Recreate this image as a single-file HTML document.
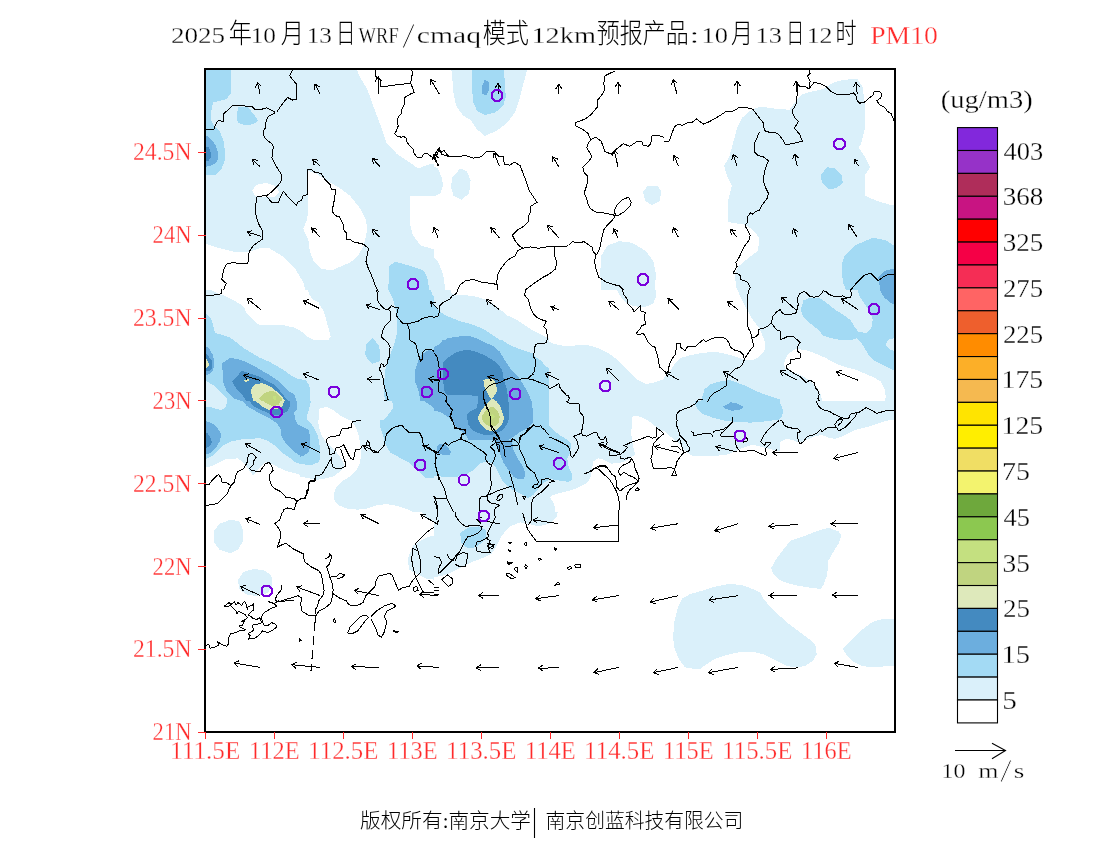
<!DOCTYPE html><html><head><meta charset="utf-8"><title>PM10</title><style>html,body{margin:0;padding:0;background:#fff;width:1100px;height:850px;overflow:hidden}svg{display:block}</style></head><body>
<svg width="1100" height="850" viewBox="0 0 1100 850">
<rect width="1100" height="850" fill="#fff"/>
<text x="170.92" y="43.02" font-family="'Liberation Serif', serif" font-weight="400" font-size="23.88" textLength="54.17" lengthAdjust="spacingAndGlyphs" fill="#000" stroke="#fff" stroke-width="0.3">2025</text>
<text x="228.77" y="42.95" font-family="'Liberation Serif', 'Noto Sans CJK SC', sans-serif" font-weight="300" font-size="27.07" textLength="23.16" lengthAdjust="spacingAndGlyphs" fill="#000" stroke="#fff" stroke-width="0">年</text>
<text x="250.72" y="43.02" font-family="'Liberation Serif', serif" font-weight="400" font-size="23.88" textLength="25.29" lengthAdjust="spacingAndGlyphs" fill="#000" stroke="#fff" stroke-width="0.3">10</text>
<text x="280.84" y="42.95" font-family="'Liberation Serif', 'Noto Sans CJK SC', sans-serif" font-weight="300" font-size="27.07" textLength="23.29" lengthAdjust="spacingAndGlyphs" fill="#000" stroke="#fff" stroke-width="0">月</text>
<text x="306.72" y="43.02" font-family="'Liberation Serif', serif" font-weight="400" font-size="23.88" textLength="25.29" lengthAdjust="spacingAndGlyphs" fill="#000" stroke="#fff" stroke-width="0.3">13</text>
<text x="336.09" y="42.95" font-family="'Liberation Serif', 'Noto Sans CJK SC', sans-serif" font-weight="300" font-size="27.07" textLength="19.40" lengthAdjust="spacingAndGlyphs" fill="#000" stroke="#fff" stroke-width="0">日</text>
<text x="358.60" y="43.02" font-family="'Liberation Serif', serif" font-weight="400" font-size="23.88" textLength="40.08" lengthAdjust="spacingAndGlyphs" fill="#000" stroke="#fff" stroke-width="0.3">WRF</text>
<text x="416.81" y="43.02" font-family="'Liberation Serif', serif" font-weight="400" font-size="23.88" textLength="64.35" lengthAdjust="spacingAndGlyphs" fill="#000" stroke="#fff" stroke-width="0.3">cmaq</text>
<text x="482.77" y="42.95" font-family="'Liberation Serif', 'Noto Sans CJK SC', sans-serif" font-weight="300" font-size="27.07" textLength="46.15" lengthAdjust="spacingAndGlyphs" fill="#000" stroke="#fff" stroke-width="0">模式</text>
<text x="531.45" y="43.02" font-family="'Liberation Serif', serif" font-weight="400" font-size="23.88" textLength="64.56" lengthAdjust="spacingAndGlyphs" fill="#000" stroke="#fff" stroke-width="0.3">12km</text>
<text x="596.77" y="42.95" font-family="'Liberation Serif', 'Noto Sans CJK SC', sans-serif" font-weight="300" font-size="27.07" textLength="91.84" lengthAdjust="spacingAndGlyphs" fill="#000" stroke="#fff" stroke-width="0">预报产品</text>
<text x="689.83" y="43.02" font-family="'Liberation Serif', serif" font-weight="400" font-size="23.88" textLength="9.27" lengthAdjust="spacingAndGlyphs" fill="#000" stroke="#fff" stroke-width="0.3">:</text>
<text x="701.62" y="43.02" font-family="'Liberation Serif', serif" font-weight="400" font-size="23.88" textLength="26.44" lengthAdjust="spacingAndGlyphs" fill="#000" stroke="#fff" stroke-width="0.3">10</text>
<text x="730.90" y="42.95" font-family="'Liberation Serif', 'Noto Sans CJK SC', sans-serif" font-weight="300" font-size="27.07" textLength="21.92" lengthAdjust="spacingAndGlyphs" fill="#000" stroke="#fff" stroke-width="0">月</text>
<text x="755.62" y="43.02" font-family="'Liberation Serif', serif" font-weight="400" font-size="23.88" textLength="26.44" lengthAdjust="spacingAndGlyphs" fill="#000" stroke="#fff" stroke-width="0.3">13</text>
<text x="786.31" y="42.95" font-family="'Liberation Serif', 'Noto Sans CJK SC', sans-serif" font-weight="300" font-size="27.07" textLength="17.91" lengthAdjust="spacingAndGlyphs" fill="#000" stroke="#fff" stroke-width="0">日</text>
<text x="806.67" y="43.02" font-family="'Liberation Serif', serif" font-weight="400" font-size="23.88" textLength="25.88" lengthAdjust="spacingAndGlyphs" fill="#000" stroke="#fff" stroke-width="0.3">12</text>
<text x="835.52" y="42.95" font-family="'Liberation Serif', 'Noto Sans CJK SC', sans-serif" font-weight="300" font-size="27.07" textLength="21.11" lengthAdjust="spacingAndGlyphs" fill="#000" stroke="#fff" stroke-width="0">时</text>
<text x="401.90" y="47.84" font-family="'Liberation Serif', serif" font-weight="400" font-size="36.21" textLength="13.00" lengthAdjust="spacingAndGlyphs" fill="#000" stroke="#fff" stroke-width="0.9">/</text>
<text x="870.17" y="43.51" font-family="'Liberation Serif', serif" font-weight="400" font-size="24.56" textLength="67.81" lengthAdjust="spacingAndGlyphs" fill="#ff2a2a" stroke="#fff" stroke-width="0.3">PM10</text>
<defs><clipPath id="fc"><rect x="205" y="69" width="690" height="663"/></clipPath></defs>
<g clip-path="url(#fc)" shape-rendering="crispEdges">
<defs><clipPath id="t0"><rect x="204" y="68" width="230" height="222"/></clipPath><clipPath id="t1"><rect x="434" y="68" width="230" height="222"/></clipPath><clipPath id="t2"><rect x="664" y="68" width="232" height="222"/></clipPath><clipPath id="t3"><rect x="204" y="290" width="115" height="111"/></clipPath><clipPath id="t4"><rect x="204" y="401" width="115" height="111"/></clipPath><clipPath id="t5"><rect x="319" y="290" width="115" height="111"/></clipPath><clipPath id="t6"><rect x="319" y="401" width="115" height="20"/></clipPath><clipPath id="t7"><rect x="300" y="420" width="140" height="100"/></clipPath><clipPath id="t8"><rect x="434" y="290" width="115" height="111"/></clipPath><clipPath id="t9"><rect x="549" y="290" width="115" height="111"/></clipPath><clipPath id="t10"><rect x="434" y="401" width="115" height="111"/></clipPath><clipPath id="t11"><rect x="549" y="401" width="115" height="111"/></clipPath><clipPath id="t12"><rect x="434" y="340" width="100" height="100"/></clipPath><clipPath id="t13"><rect x="664" y="290" width="116" height="111"/></clipPath><clipPath id="t14"><rect x="780" y="290" width="116" height="111"/></clipPath><clipPath id="t15"><rect x="664" y="401" width="116" height="111"/></clipPath><clipPath id="t16"><rect x="780" y="401" width="116" height="111"/></clipPath><clipPath id="t17"><rect x="204" y="512" width="230" height="222"/></clipPath><clipPath id="t18"><rect x="434" y="512" width="230" height="222"/></clipPath><clipPath id="t19"><rect x="664" y="512" width="232" height="222"/></clipPath><clipPath id="t20"><rect x="204" y="580" width="1" height="1"/></clipPath></defs>
<g clip-path="url(#t0)"><rect x="204" y="68" width="230" height="222" fill="#daf0fa"/><polygon points="355.4,66.7 360.7,78.4 367.2,88.9 373.7,107.2 381.5,128.1 386.8,143.7 397.2,154.2 412.9,164.6 418.1,168.5 428.5,164.6 439.0,163.3 439.0,66.7" fill="#ffffff"/><polygon points="308.4,171.1 316.3,173.7 326.7,180.3 339.8,188.1 350.2,195.9 360.7,209.0 365.9,219.4 367.2,229.9 363.8,245.5 358.0,256.0 350.2,262.5 331.9,270.3 321.5,269.0 313.7,261.2 309.7,250.8 308.4,240.3 303.2,228.6 307.1,219.4 308.4,209.0" fill="#ffffff"/><polygon points="410.3,195.9 439.0,195.9 439.0,250.8 420.7,245.5 412.9,235.1 410.3,224.7" fill="#ffffff"/><polygon points="202.7,242.9 219.7,248.2 235.3,252.1 248.4,252.1 260.1,248.2 269.3,248.2 282.3,256.0 295.4,269.0 303.2,282.1 306.3,292.5 202.7,292.5" fill="#ffffff"/><polygon points="252.3,190.7 256.2,185.0 265.4,182.9 274.5,185.5 279.7,192.0 274.5,197.2 264.1,197.2 254.9,195.9" fill="#ffffff"/><polygon points="202.7,66.7 230.6,66.7 231.4,92.8 226.2,99.3 213.1,102.5 211.3,111.1 211.3,120.2 213.9,125.4 219.7,130.7 223.6,141.1 224.9,151.6 225.4,159.4 221.0,169.8 215.7,174.5 202.7,175.0" fill="#a3daf4"/><polygon points="237.9,107.2 247.1,106.6 252.3,112.4 258.3,120.7 253.6,124.1 245.8,125.4 239.2,123.4 236.6,120.2 237.4,112.4" fill="#a3daf4"/><polygon points="388.1,292.5 389.4,266.4 394.6,261.7 407.7,265.1 423.3,270.3 427.2,276.9 429.8,292.5" fill="#a3daf4"/><polygon points="202.7,133.3 209.2,137.2 215.7,145.0 217.6,151.6 218.4,158.1 215.7,163.3 210.5,165.9 202.7,167.2" fill="#6caede"/><polygon points="202.7,146.3 209.2,147.6 210.5,151.6 211.3,156.8 208.7,160.7 202.7,161.5" fill="#448ac0"/></g>
<g clip-path="url(#t1)"><rect x="434" y="68" width="230" height="222" fill="#ffffff"/><polygon points="451.0,66.7 528.0,66.7 524.1,81.1 520.2,96.7 514.9,112.4 507.1,122.8 496.7,130.7 484.9,135.9 477.1,129.4 470.6,120.2 462.7,115.0 456.2,105.9 453.6,94.1 452.3,78.4" fill="#daf0fa"/><polygon points="432.7,165.9 437.9,168.5 441.8,177.7 443.1,185.5 440.5,193.3 432.7,197.2" fill="#daf0fa"/><polygon points="452.3,177.7 460.1,168.5 466.6,171.1 470.6,180.3 469.2,193.3 461.4,199.9 453.6,195.9 451.0,186.8" fill="#daf0fa"/><polygon points="432.7,256.0 437.9,261.2 443.1,274.3 445.7,292.5 432.7,292.5" fill="#daf0fa"/><polygon points="642.9,192.0 648.1,185.5 657.2,185.5 661.2,190.7 659.8,201.2 652.0,205.1 645.5,201.2" fill="#daf0fa"/><polygon points="601.1,256.0 607.6,245.5 619.4,241.1 632.4,242.9 645.5,250.8 653.3,261.2 655.9,274.3 654.6,292.5 601.1,292.5 600.3,271.7" fill="#daf0fa"/><polygon points="471.9,66.7 503.2,66.7 504.5,78.4 505.8,96.7 503.2,105.9 495.4,112.4 484.9,115.0 477.1,111.1 473.2,101.9 471.9,86.3" fill="#a3daf4"/><polygon points="482.3,85.0 484.9,79.7 488.8,82.4 489.4,88.9 486.2,95.4 482.3,94.1" fill="#6caede"/></g>
<g clip-path="url(#t2)"><rect x="664" y="68" width="232" height="222" fill="#ffffff"/><polygon points="724.1,165.9 729.3,156.8 737.1,128.1 742.3,117.6 751.5,109.8 760.6,106.6 773.7,108.5 789.3,109.8 797.2,99.3 802.4,94.1 810.2,92.0 823.3,88.9 833.7,82.4 844.2,79.7 857.2,79.0 862.4,86.3 865.0,104.6 865.0,128.1 861.1,143.7 858.5,147.6 865.0,156.8 870.3,167.2 865.0,175.0 865.0,195.9 878.1,201.2 891.2,205.1 899.0,206.4 899.0,292.5 737.1,292.5 734.5,274.3 738.4,266.4 747.6,258.6 758.0,250.8 759.3,237.7 752.8,229.9 744.9,224.7 728.0,222.0 728.0,201.2 731.9,185.5 726.7,175.0" fill="#daf0fa"/><polygon points="820.7,175.0 827.2,167.2 835.0,168.5 841.5,175.0 842.9,182.9 836.3,188.1 828.5,189.4 822.0,182.9" fill="#a3daf4"/><polygon points="841.5,266.4 844.2,256.0 854.6,245.5 872.9,237.7 885.9,240.3 893.8,245.5 899.0,248.2 899.0,292.5 846.8,292.5 842.9,282.1" fill="#a3daf4"/><polygon points="878.1,276.9 885.9,270.3 899.0,267.7 899.0,292.5 880.7,292.5" fill="#6caede"/></g>
<g clip-path="url(#t3)"><rect x="204" y="290" width="115" height="111" fill="#daf0fa"/><polygon points="209.9,289.3 217.1,293.3 224.9,295.9 234.0,300.4 240.6,304.4 244.5,308.3 245.8,312.2 249.7,316.1 254.9,321.3 258.8,324.6 271.9,324.6 282.3,325.0 295.4,327.9 301.9,331.8 305.8,335.7 313.7,339.6 320.2,340.4 329.3,339.6 330.6,335.7 329.3,326.6 326.7,318.7 324.1,310.9 320.2,303.1 312.4,299.1 309.7,295.2 307.1,289.3" fill="#ffffff"/><polygon points="203.3,313.5 207.9,314.8 211.2,318.7 213.1,325.2 215.1,333.1 221.0,334.4 230.1,337.7 237.9,343.5 244.5,348.7 253.6,354.0 260.1,357.9 269.3,361.8 278.4,367.0 284.9,370.9 290.2,374.9 298.0,378.8 305.8,380.1 308.4,384.0 310.4,389.2 310.4,401.0 311.0,407.5 295.4,407.5 203.3,407.5" fill="#a3daf4"/><polygon points="205.0,380.4 213.4,385.2 220.9,392.7 226.6,398.3 226.6,407.7 223.8,411.5 218.1,410.6 209.6,407.7 203.3,406.8" fill="#daf0fa"/><polygon points="203.3,344.2 209.2,348.7 213.1,355.3 214.4,363.1 213.1,370.9 207.9,374.9 203.3,376.4" fill="#6caede"/><polygon points="203.3,351.9 207.9,355.3 212.5,361.8 212.1,368.3 209.2,370.9 203.3,372.0" fill="#448ac0"/><polygon points="203.3,355.9 206.6,359.2 209.2,364.4 207.9,367.0 203.3,369.9" fill="#dee9bb"/><polygon points="222.3,363.1 230.1,357.9 237.9,359.2 245.8,361.8 253.6,365.7 260.1,369.6 269.3,374.9 277.1,380.1 282.3,385.3 287.6,390.5 294.1,394.4 296.7,401.0 297.3,408.8 282.3,408.8 241.9,401.0 234.0,398.4 226.8,391.8 222.9,381.4" fill="#6caede"/><polygon points="232.1,381.4 241.9,370.9 249.7,373.6 258.8,376.2 265.4,380.1 273.2,384.0 279.7,390.5 284.9,397.0 288.9,401.0 290.2,404.9 249.0,404.9 241.9,394.4 236.6,389.2" fill="#448ac0"/><polygon points="251.0,389.2 254.9,384.0 262.7,383.3 270.6,386.6 277.1,391.8 282.3,397.0 284.9,401.0 284.9,404.9 254.9,404.9 251.7,395.7" fill="#dee9bb"/><polygon points="258.8,398.4 264.1,393.1 271.9,390.5 277.1,393.1 282.3,398.4 281.0,402.3 262.7,402.3" fill="#c0d480"/><polygon points="272.5,396.4 275.1,395.5 276.6,399.0 273.8,400.3" fill="#c4e080"/><polygon points="243.8,380.1 249.0,378.5 249.7,380.1 245.8,382.0" fill="#dee9bb"/></g>
<g clip-path="url(#t4)"><rect x="204" y="401" width="115" height="111" fill="#daf0fa"/><polygon points="203.3,400.3 311.0,400.3 310.4,403.6 309.1,408.8 307.1,415.4 307.1,420.6 309.7,427.1 313.7,433.6 316.3,438.9 320.2,441.5 320.2,463.7 311.0,465.0 303.2,465.0 295.4,462.4 288.9,457.1 281.0,451.9 274.5,445.4 266.7,440.2 260.1,438.2 248.4,438.9 240.6,439.5 231.4,441.5 223.6,445.4 217.1,451.9 210.5,457.1 203.3,459.7" fill="#a3daf4"/><polygon points="203.3,400.3 226.8,400.3 226.2,406.9 221.0,410.1 211.8,407.5 203.3,406.9" fill="#daf0fa"/><polygon points="203.3,467.6 211.8,466.3 219.7,462.4 226.2,459.1 237.9,458.4 243.2,462.4 247.1,467.6 253.0,475.4 258.8,468.9 265.4,462.4 271.9,463.7 278.4,467.6 287.6,471.5 298.0,474.1 307.1,476.7 315.0,479.3 320.2,480.0 320.2,513.3 203.3,513.3" fill="#ffffff"/><polygon points="241.9,400.3 296.7,400.3 297.3,408.8 294.1,412.7 295.4,419.3 298.0,424.5 303.2,427.1 308.4,432.3 311.0,440.2 312.4,450.6 307.1,454.5 298.0,454.5 292.8,450.6 287.6,445.4 283.6,440.2 281.0,434.9 281.0,429.7 277.1,423.2 266.7,416.7 256.2,411.4 247.1,406.2" fill="#6caede"/><polygon points="249.0,400.3 290.2,400.3 290.2,404.9 287.6,411.4 282.3,414.1 277.1,415.4 270.6,414.1 261.4,410.1 253.6,406.2" fill="#448ac0"/><polygon points="254.9,400.3 284.9,400.3 282.3,406.2 277.1,408.8 269.3,410.1 262.7,406.9 258.8,403.6" fill="#dee9bb"/><polygon points="262.7,400.3 281.0,400.3 278.4,404.9 273.2,406.2 266.7,403.6" fill="#c0d480"/><polygon points="203.3,420.6 209.2,421.9 215.7,425.8 221.0,433.6 220.3,440.2 215.7,448.0 210.5,453.2 203.3,454.5" fill="#6caede"/><polygon points="203.3,432.3 207.9,433.6 211.2,438.9 211.8,442.8 209.2,446.7 203.3,449.3" fill="#448ac0"/></g>
<g clip-path="url(#t5)"><rect x="319" y="290" width="115" height="111" fill="#daf0fa"/><polygon points="318.3,303.1 322.9,309.6 325.5,317.4 328.1,326.6 330.7,337.0 328.1,340.3 318.3,340.3" fill="#ffffff"/><polygon points="388.2,289.3 393.4,300.4 396.0,310.9 397.3,321.3 397.3,331.8 394.7,342.2 392.1,350.1 388.2,359.2 385.6,368.3 384.3,381.4 383.6,391.8 385.6,402.3 435.2,402.3 435.2,289.3" fill="#a3daf4"/><polygon points="430.6,289.3 435.2,289.3 435.2,296.5 432.6,295.2" fill="#daf0fa"/><polygon points="365.3,354.0 366.0,344.8 372.5,337.7 378.4,344.8 380.4,352.7 379.7,361.1 372.5,363.8 367.3,359.2" fill="#a3daf4"/><polygon points="435.2,351.4 428.7,350.1 422.1,354.0 418.2,360.5 415.0,370.9 415.0,381.4 418.2,389.2 420.8,402.3 435.2,402.3" fill="#6caede"/></g>
<g clip-path="url(#t6)"><rect x="319" y="401" width="115" height="20" fill="#daf0fa"/><polygon points="320.3,408.2 326.8,406.9 333.4,410.1 339.9,415.4 347.7,419.3 350.3,421.9 318.3,421.9 318.3,410.1" fill="#ffffff"/><polygon points="392.1,400.3 435.2,400.3 435.2,421.9 380.4,421.9 379.1,424.5 386.9,416.7 393.4,407.5" fill="#a3daf4"/><polygon points="423.4,400.3 435.2,400.3 435.2,408.8" fill="#6caede"/></g>
<g clip-path="url(#t7)"><rect x="300" y="420" width="140" height="100" fill="#daf0fa"/><polygon points="317.8,419.4 350.9,419.4 356.0,427.6 358.5,435.3 360.5,445.5 361.1,455.6 359.8,463.3 356.0,470.9 350.9,476.0 342.0,481.1 336.9,486.2 333.7,493.8 334.4,500.2 338.2,505.3 347.1,508.5 357.3,509.7 367.5,508.5 376.4,505.3 386.5,504.0 396.7,505.9 406.9,509.1 417.1,513.5 424.7,518.0 427.3,521.8 299.4,521.8 299.4,476.6 307.6,477.9 316.5,479.8 325.5,478.5 334.4,476.0 340.7,470.9 344.5,467.1 343.3,462.0 338.2,454.4 333.1,448.0 326.7,442.9 321.6,435.3 319.1,427.6" fill="#ffffff"/><polygon points="379.5,419.4 441.3,419.4 441.3,477.3 428.5,478.5 424.7,477.3 417.1,469.6 408.2,462.0 399.3,457.5 390.4,452.5 385.9,445.5 383.4,436.5 380.2,427.6" fill="#a3daf4"/><polygon points="438.7,444.2 441.3,443.5 441.3,451.8 439.0,450.5" fill="#6caede"/><polygon points="299.4,419.4 307.6,419.4 314.0,427.6 317.8,435.3 319.7,445.5 320.4,455.6 319.1,462.0 312.7,464.5 305.1,464.5 299.4,463.3" fill="#a3daf4"/><polygon points="299.4,425.1 303.8,427.6 308.9,430.2 310.2,437.8 310.2,445.5 308.9,451.8 303.8,455.6 299.4,456.9" fill="#6caede"/></g>
<g clip-path="url(#t8)"><rect x="434" y="290" width="115" height="111" fill="#daf0fa"/><polygon points="451.0,289.3 451.6,293.9 456.2,295.2 464.0,295.0 471.9,295.9 478.4,297.2 486.2,299.8 494.1,304.4 501.9,310.9 507.1,315.5 514.9,318.7 522.8,323.9 530.6,329.2 538.4,333.1 546.3,337.0 550.2,338.6 550.2,289.3" fill="#ffffff"/><polygon points="433.3,303.1 440.5,312.2 447.1,316.1 460.1,321.3 467.9,323.3 475.8,325.9 483.6,329.2 491.4,334.4 499.3,339.6 507.1,342.2 514.9,346.1 525.4,351.4 533.2,355.3 541.0,360.5 546.3,367.0 550.2,368.3 550.2,402.3 433.3,402.3" fill="#a3daf4"/><polygon points="433.3,351.4 441.8,344.8 447.1,338.3 460.1,336.3 470.6,336.3 479.7,339.6 488.8,343.5 495.4,347.4 501.9,355.3 507.1,363.1 512.3,368.3 517.6,374.9 522.8,384.0 528.0,391.8 530.6,402.3 433.3,402.3" fill="#6caede"/><polygon points="443.1,363.1 451.0,354.0 460.1,350.1 469.2,349.4 477.1,352.7 486.2,356.6 494.1,361.8 500.6,368.3 504.5,374.9 507.1,381.4 511.0,389.2 514.9,394.4 517.6,402.3 447.1,402.3 444.4,394.4 441.8,386.6 441.8,374.9" fill="#448ac0"/></g>
<g clip-path="url(#t9)"><rect x="549" y="290" width="115" height="111" fill="#ffffff"/><polygon points="616.9,289.3 619.5,295.2 624.7,301.7 632.6,305.7 640.4,307.0 648.2,306.3 653.4,303.1 656.0,296.5 656.0,289.3" fill="#daf0fa"/><polygon points="548.3,340.9 552.9,343.5 562.1,345.5 575.1,345.5 585.6,344.8 594.7,346.8 603.8,350.7 611.7,355.3 618.2,360.5 624.7,367.0 631.2,373.6 637.8,380.1 645.6,384.0 653.4,382.7 661.3,380.1 665.2,378.8 665.2,402.3 548.3,402.3" fill="#daf0fa"/></g>
<g clip-path="url(#t10)"><rect x="434" y="401" width="115" height="111" fill="#daf0fa"/><polygon points="433.3,400.3 550.2,400.3 550.2,479.3 545.0,481.9 538.4,488.5 533.2,495.0 528.0,498.3 522.8,495.0 514.9,491.1 508.4,487.2 503.2,481.9 499.3,474.1 495.4,466.3 490.1,462.4 484.9,461.7 479.7,463.7 473.2,470.2 466.6,474.1 454.9,477.4 441.8,476.7 433.3,475.4" fill="#a3daf4"/><polygon points="433.3,400.3 531.3,400.3 531.9,406.2 532.6,414.1 531.3,424.5 524.1,431.7 514.9,436.2 512.3,442.8 513.6,450.6 517.6,458.4 522.8,466.3 525.4,474.1 524.1,478.7 518.9,479.3 513.6,476.7 508.4,470.2 503.2,462.4 499.9,453.2 497.3,445.4 494.1,440.8 488.8,439.1 482.3,437.8 473.2,435.9 466.6,433.9 461.4,431.3 456.2,425.8 451.0,419.3 447.1,415.4 441.8,413.4 433.3,411.4" fill="#6caede"/><polygon points="436.6,446.7 439.2,444.1 444.4,444.1 448.4,448.0 451.0,451.9 449.7,454.5 441.8,454.5 436.6,453.2" fill="#6caede"/><polygon points="478.4,400.3 507.1,400.3 509.1,408.8 509.7,418.0 507.1,425.8 504.5,431.0 499.3,433.6 492.7,433.6 486.2,432.3 479.7,430.4 473.2,427.1 469.2,421.9 466.6,415.4 470.6,411.4 475.8,407.5" fill="#448ac0"/><polygon points="478.4,418.0 479.7,412.7 483.6,407.5 488.8,403.6 491.4,400.3 498.0,400.3 500.6,407.5 503.2,415.4 503.2,421.9 500.6,427.1 495.4,430.4 488.8,431.0 483.6,428.4 480.3,424.5" fill="#dee9bb"/><polygon points="482.3,418.0 483.6,414.1 487.5,410.1 491.4,408.2 495.4,411.4 499.3,416.7 500.6,420.6 496.7,425.2 491.4,427.1 486.2,425.2 483.6,421.9" fill="#c0d480"/><polygon points="490.8,416.0 493.4,415.4 494.1,418.0 491.4,418.6" fill="#c4e080"/></g>
<g clip-path="url(#t11)"><rect x="549" y="401" width="115" height="111" fill="#daf0fa"/><polygon points="632.6,415.4 640.4,416.7 648.2,420.6 654.7,425.8 660.0,429.7 665.2,432.3 665.2,513.3 555.5,513.3 554.2,504.1 550.3,497.6 552.9,495.0 562.1,492.4 572.5,489.8 581.6,485.9 588.2,481.9 590.8,476.7 592.1,468.9 593.4,461.1 598.6,458.4 603.8,459.7 611.7,463.7 622.1,462.4 629.9,458.4 635.2,454.5 633.2,446.7 631.2,433.6" fill="#ffffff"/><polygon points="548.3,424.5 552.9,429.7 559.4,434.9 566.0,438.9 571.2,444.1 569.9,453.2 567.3,458.4 568.6,466.3 571.8,474.1 572.5,479.3 568.6,481.9 559.4,480.6 551.6,479.3 548.3,478.0" fill="#a3daf4"/></g>
<g clip-path="url(#t12)"><rect x="434" y="340" width="100" height="100" fill="#a3daf4"/><polygon points="501.1,339.4 535.2,339.4 535.2,354.1 528.1,351.8 518.7,348.8 509.3,344.7" fill="#daf0fa"/><polygon points="433.4,347.1 438.7,344.7 443.4,339.4 478.7,339.4 484.6,342.4 492.8,345.9 499.9,351.8 506.9,363.5 511.6,370.6 518.7,377.6 523.4,384.7 528.1,392.9 531.6,401.2 532.8,410.6 532.8,422.4 528.1,428.2 518.7,432.9 514.0,436.5 506.9,441.2 469.3,441.2 466.9,436.5 463.4,432.9 458.7,429.4 454.0,424.7 451.6,420.0 445.8,415.3 439.9,411.8 433.4,410.6" fill="#6caede"/><polygon points="443.4,362.4 448.1,357.6 455.2,352.9 462.2,350.6 469.3,350.0 476.4,351.8 484.6,355.3 492.8,360.0 498.7,364.7 502.2,370.6 503.4,377.6 504.6,382.4 506.9,389.4 508.1,398.8 509.3,408.2 509.3,417.6 506.9,424.7 502.2,430.6 495.2,434.1 488.1,435.3 481.1,434.1 472.8,430.6 468.1,424.7 466.9,415.3 469.3,411.8 476.4,408.2 478.1,402.4 477.5,395.9 469.3,395.3 463.4,394.7 455.2,395.3 448.1,395.3 444.6,391.8 443.4,383.5 443.4,372.9" fill="#448ac0"/><polygon points="483.4,380.0 486.9,378.8 492.8,378.8 495.2,382.4 496.4,387.1 497.5,390.6 495.2,394.1 492.8,397.6 491.6,398.8 489.3,396.5 486.9,391.8 484.6,387.1" fill="#dee9bb"/><polygon points="478.1,416.5 481.1,410.6 485.8,404.7 490.5,400.0 492.8,398.8 496.4,401.2 499.9,405.9 502.2,411.8 504.0,417.6 502.2,424.7 497.5,429.4 491.6,431.2 485.8,429.4 481.1,424.7 478.7,421.2" fill="#dee9bb"/><polygon points="482.2,415.3 485.8,410.6 490.5,407.1 494.0,407.1 497.5,410.6 499.9,416.5 498.7,422.4 495.2,425.9 489.3,426.5 484.6,423.5 482.2,420.0" fill="#c0d480"/><polygon points="489.3,415.3 492.8,414.1 494.6,416.5 492.8,418.8 490.5,418.2" fill="#c4e080"/></g>
<g clip-path="url(#t13)"><rect x="664" y="290" width="116" height="111" fill="#ffffff"/><polygon points="737.2,289.3 739.8,295.2 743.7,303.1 747.6,310.9 752.8,320.0 758.1,326.6 762.0,334.4 765.2,342.3 764.6,350.1 760.7,355.3 755.4,359.2 748.9,360.5 742.4,359.2 735.8,356.6 726.7,354.0 716.3,352.1 703.2,352.7 690.1,355.3 681.0,357.9 674.5,364.5 669.2,372.3 663.3,378.8 663.3,402.3 780.3,402.3 780.3,289.3" fill="#daf0fa"/><polygon points="700.6,402.3 704.5,389.3 711.0,384.1 720.2,381.4 729.3,380.1 737.2,382.7 747.6,386.7 758.1,391.9 768.5,395.8 776.3,398.4 780.3,399.7 780.3,402.3" fill="#a3daf4"/></g>
<g clip-path="url(#t14)"><rect x="780" y="290" width="116" height="111" fill="#daf0fa"/><polygon points="800.9,309.6 803.5,300.5 810.0,297.8 820.5,298.5 827.0,303.1 834.9,309.6 845.3,316.1 850.5,320.0 854.5,326.6 858.4,331.8 866.2,333.1 871.4,327.9 872.7,320.0 870.1,312.2 864.9,304.4 859.7,296.5 857.1,289.3 896.3,289.3 896.3,371.0 889.7,368.4 881.9,364.5 874.1,360.5 868.8,355.3 864.9,348.8 861.0,342.3 857.1,338.3 850.5,340.3 841.4,340.3 832.3,338.3 823.1,335.7 819.2,330.5 812.7,325.3 806.1,320.0 802.2,314.8" fill="#a3daf4"/><polygon points="879.3,289.3 896.3,289.3 896.3,305.7 891.0,303.1 884.5,297.8" fill="#6caede"/><polygon points="885.8,344.9 888.4,339.6 893.7,338.3 896.3,338.3 896.3,351.4 891.0,350.1" fill="#daf0fa"/><polygon points="783.9,363.2 787.8,354.0 795.7,348.8 806.1,350.1 816.6,354.0 825.7,357.9 834.9,363.2 845.3,367.1 855.8,369.7 864.9,373.6 874.1,377.5 880.6,381.4 884.5,389.3 885.8,397.1 884.5,402.3 823.1,402.3 820.5,394.5 816.6,386.7 811.4,381.4 804.8,377.5 797.0,373.6 790.5,371.0 785.2,368.4" fill="#ffffff"/></g>
<g clip-path="url(#t15)"><rect x="664" y="401" width="116" height="111" fill="#ffffff"/><polygon points="663.3,400.3 780.3,400.3 780.3,451.3 771.1,449.3 763.3,447.4 755.4,445.4 750.2,445.4 742.4,448.0 735.8,451.3 726.7,454.6 716.3,455.9 703.2,456.5 692.7,455.9 686.2,451.9 679.7,444.1 671.8,437.6 663.3,430.4" fill="#daf0fa"/><polygon points="695.4,400.3 780.3,400.3 780.3,419.3 771.1,420.6 760.7,421.9 750.2,422.6 737.2,421.9 724.1,420.6 713.6,418.0 703.2,414.1 698.0,410.1 695.4,404.9" fill="#a3daf4"/><polygon points="722.8,406.9 730.6,402.3 737.2,403.6 744.3,406.9 739.8,409.5 731.9,410.8 725.4,408.8" fill="#6caede"/></g>
<g clip-path="url(#t16)"><rect x="780" y="401" width="116" height="111" fill="#ffffff"/><polygon points="779.3,400.3 896.3,400.3 896.3,419.3 887.1,420.6 879.3,423.2 871.4,425.8 863.6,427.8 855.8,429.7 847.9,433.7 841.4,436.9 834.9,438.9 828.3,437.6 821.8,435.0 814.0,436.3 806.1,440.2 799.6,442.8 793.1,440.2 786.5,438.9 779.3,442.1" fill="#daf0fa"/><polygon points="779.3,403.6 781.3,404.9 782.6,408.8 782.6,414.1 781.3,418.0 779.3,418.0" fill="#a3daf4"/></g>
<g clip-path="url(#t17)"><rect x="204" y="512" width="230" height="222" fill="#ffffff"/><polygon points="214.4,530.3 219.7,523.7 230.1,519.8 239.2,521.1 243.2,530.3 243.2,540.7 237.9,549.9 230.1,553.3 219.7,549.9 213.9,542.0" fill="#daf0fa"/><polygon points="237.9,579.9 243.2,572.1 253.6,568.9 265.4,570.7 271.4,576.0 272.4,585.1 268.0,592.9 256.2,596.1 245.8,594.2 239.2,589.0" fill="#daf0fa"/><polygon points="407.7,559.0 412.9,545.9 420.7,540.7 428.5,536.8 436.4,535.5 436.4,579.9 425.9,578.6 415.5,573.4 409.0,569.4" fill="#daf0fa"/><polygon points="420.7,510.7 436.4,510.7 436.4,522.4 425.9,518.5" fill="#daf0fa"/></g>
<g clip-path="url(#t18)"><rect x="434" y="512" width="230" height="222" fill="#ffffff"/><polygon points="432.7,510.7 558.0,510.7 556.7,517.2 548.9,523.7 538.4,526.4 528.0,523.7 520.2,522.4 509.7,526.4 501.9,535.5 496.7,545.9 491.4,553.8 483.6,557.7 473.2,561.6 462.7,566.8 452.3,572.1 441.8,576.0 432.7,577.3" fill="#daf0fa"/><polygon points="460.1,532.9 467.9,527.7 478.4,526.4 486.2,530.3 486.2,538.1 481.0,543.3 475.8,547.2 467.9,548.6 461.4,543.3" fill="#a3daf4"/></g>
<g clip-path="url(#t19)"><rect x="664" y="512" width="232" height="222" fill="#ffffff"/><polygon points="771.0,568.1 776.3,559.0 784.1,548.6 790.6,540.7 802.4,536.8 815.4,531.6 828.5,527.7 838.9,531.6 841.5,535.5 838.9,543.3 833.7,551.2 828.5,560.3 827.2,574.7 823.3,585.1 820.7,589.0 810.2,587.7 794.5,585.1 781.5,581.2 773.7,574.7" fill="#daf0fa"/><polygon points="673.1,637.3 674.4,621.7 678.4,606.0 682.3,598.2 690.1,594.2 703.2,590.3 716.2,586.4 729.3,583.8 742.3,585.1 752.8,589.0 760.6,592.9 763.2,598.2 768.4,604.7 778.9,615.1 789.3,624.3 799.8,632.1 810.2,639.9 815.4,645.2 816.7,654.3 812.8,660.8 805.0,666.0 797.2,667.4 786.7,666.0 778.9,662.1 771.0,658.2 763.2,654.3 752.8,651.7 742.3,651.7 729.3,654.3 716.2,658.2 705.8,664.7 700.6,668.7 692.7,668.7 684.9,667.4 678.4,658.2 674.4,647.8" fill="#daf0fa"/><polygon points="842.9,649.1 852.0,639.9 862.4,629.5 872.9,621.7 883.3,619.0 893.8,619.0 899.0,619.0 899.0,666.0 888.5,666.0 872.9,667.4 862.4,666.0 852.0,660.8 846.8,655.6" fill="#daf0fa"/></g>
<g clip-path="url(#t20)"></g>
<path d="M204.0,129.4 L213.9,129.4 L215.2,125.4 L217.1,121.5 L219.1,120.2 L221.8,121.5 L223.6,122.0 L223.6,113.7 L228.3,109.8 L232.2,105.9 L244.5,105.9 L245.8,106.6 L252.3,106.6 L254.9,109.3 L261.4,109.3 L266.7,107.9 L271.9,110.6 L275.3,112.4 M292.8,69.3 L289.6,75.8 L292.8,79.7 L296.7,84.4 L296.2,99.3 L292.8,100.1 L287.6,97.5 L284.9,100.6 L281.0,105.9 L276.6,112.4 M275.3,112.9 L269.3,115.8 L267.4,117.6 L265.4,124.1 L265.4,128.1 L263.5,130.7 L264.1,137.2 L266.7,139.8 L271.9,143.7 L273.2,146.3 L272.7,152.9 L271.9,158.1 L275.3,164.6 L279.2,171.1 L281.8,175.0 L281.0,181.6 L278.4,185.0 L272.4,191.2 L267.2,195.2 L258.3,196.5 L256.2,197.2 L255.7,214.2 L258.3,223.4 L262.0,229.9 L263.0,239.0 L258.8,241.6 L253.6,245.5 L249.7,250.8 L248.4,254.7 L247.9,263.8 L240.6,263.8 L232.7,262.5 L226.2,264.3 L223.6,270.3 L221.8,279.5 L226.2,283.4 L223.6,289.9 M615.5,70.6 L605.0,75.8 L603.7,83.7 L605.0,88.9 L602.4,94.1 L597.2,100.6 L597.2,107.2 L590.7,115.0 L585.4,118.9 L575.0,122.8 L575.0,125.4 L582.8,129.4 L588.0,133.3 L590.7,139.8 L595.9,137.2 L601.1,141.1 L605.0,151.6 L611.5,154.2 L616.8,148.9 L623.3,143.7 L629.8,146.3 L637.7,141.1 L641.6,141.1 L642.9,145.0 L648.1,146.3 L650.7,143.7 L652.0,135.9 L658.5,135.4 L664.0,137.2 M590.7,139.8 L588.0,143.7 L586.7,147.6 L590.7,154.2 L592.0,156.8 L588.0,162.0 L582.8,167.2 L584.1,172.4 L588.0,176.4 L587.5,182.9 L584.1,193.3 L586.7,198.5 L588.0,203.8 L590.7,209.0 L597.2,212.9 L603.7,212.9 L610.2,214.2 L615.5,215.5 M615.5,215.5 L614.2,210.3 L616.8,205.1 L622.0,199.9 L628.5,197.2 L631.1,202.5 L629.8,206.4 L624.6,211.6 L618.1,215.5 L615.5,215.5 M615.5,215.5 L612.9,219.4 L607.6,224.7 L603.7,229.9 L602.4,235.1 L601.1,241.6 L599.8,248.2 L597.2,253.4 L595.4,256.0 M522.8,248.2 L530.6,246.9 L538.4,248.2 L546.3,246.9 L554.1,246.9 L564.5,246.9 L568.5,245.5 L572.4,241.6 L578.9,242.9 L584.1,241.6 L589.4,245.5 L592.0,246.9 L593.3,252.1 L595.9,253.9 M595.9,253.9 L594.6,261.2 L595.9,269.0 L598.5,276.9 L606.3,282.1 L614.2,284.7 L619.4,286.0 L623.3,289.9 M554.1,246.9 L554.6,256.0 L556.7,262.5 L555.4,269.0 L548.9,274.3 L543.7,276.9 L535.8,282.1 L530.6,286.0 L525.4,289.9 M522.8,248.2 L517.6,250.8 L514.9,256.0 L509.7,258.6 L504.5,263.8 L500.6,269.0 L498.0,274.3 L496.7,282.1 L498.0,289.9 M498.0,284.7 L491.4,283.4 L481.0,282.1 L473.2,279.5 L465.3,280.8 L460.1,284.7 L457.5,289.9 M434.0,154.2 L436.6,155.5 L439.2,148.9 L441.8,154.2 L449.7,156.8 L457.5,156.8 L465.3,155.5 L473.2,158.1 L481.0,156.8 L486.2,151.6 L490.1,151.0 L495.4,152.1 L499.3,156.8 L503.2,156.8 L504.5,164.6 L509.7,165.1 L514.9,162.0 L520.2,165.9 L522.8,172.4 L526.7,182.9 L529.3,190.7 L534.5,198.5 L537.1,202.5 L534.5,203.8 L530.6,206.4 L530.6,211.6 L528.0,216.8 L528.0,222.0 L524.1,226.0 L517.6,229.9 L512.3,235.1 L514.9,240.3 L518.9,245.5 L522.8,248.2 M664.0,141.1 L669.2,141.1 L674.4,126.7 L678.4,124.1 L682.3,125.4 L687.5,122.8 L691.4,122.8 L696.6,118.9 L703.2,124.1 L709.7,121.5 L718.8,116.3 L726.7,111.1 L733.2,111.1 L739.7,107.2 L744.9,107.2 L752.8,109.3 L758.0,116.3 L763.2,122.8 L764.5,130.7 L768.4,132.0 L773.7,132.0 L778.9,134.6 L782.8,139.8 L785.4,145.0 L791.9,143.7 L797.2,142.4 L802.4,141.1 L799.8,134.6 L794.5,128.1 L798.5,121.5 L794.5,117.6 L791.9,111.1 L795.9,104.6 L797.2,94.1 L797.2,83.7 L799.8,86.3 L805.0,86.3 L808.9,88.9 L810.2,81.1 L807.6,75.8 L810.2,73.2 L808.9,70.1 M808.9,88.9 L814.1,82.4 L820.7,83.7 L825.9,86.3 L831.1,91.5 L836.3,94.1 L844.2,94.1 L849.4,94.1 L853.3,92.8 L855.9,95.4 L857.2,100.6 L859.8,103.2 L865.0,101.9 L869.0,98.0 L872.9,95.4 L874.2,91.5 L879.4,91.0 L882.0,94.1 L880.7,98.0 L876.8,100.6 L879.4,104.6 L884.6,107.2 L887.2,111.1 L891.2,113.7 L893.8,120.2 L895.9,122.8 M759.3,132.0 L756.7,138.5 L754.1,143.7 L754.1,151.6 L758.0,155.5 L763.2,156.8 L768.4,160.7 L765.8,167.2 L764.5,172.4 L763.2,180.3 L765.8,188.1 L768.4,193.3 L767.1,198.5 L761.9,205.1 L759.3,210.3 L755.4,211.6 L752.8,214.2 L750.2,212.9 L747.6,216.8 L747.6,222.0 L744.9,226.0 L747.6,229.9 L750.2,235.1 L748.9,240.3 L744.9,245.5 L742.3,250.8 L738.4,258.6 L735.8,262.5 L737.1,266.4 L733.2,273.0 L739.7,274.3 L741.0,279.5 L747.6,282.1 L750.2,287.3 L748.9,289.9 M850.7,289.9 L857.2,282.1 L863.7,275.6 L870.3,273.0 L874.2,276.9 L878.1,280.8 L883.3,276.9 L888.5,274.3 L893.8,274.3 L895.9,275.6 M204.0,485.2 L209.2,484.6 L211.8,480.6 L217.1,475.4 L219.0,474.8 L221.6,479.3 L221.6,481.9 L227.5,483.2 L230.8,485.9 M230.8,485.9 L234.7,481.9 L235.3,476.7 L237.3,472.1 L243.2,468.9 L245.8,465.0 L247.1,462.4 L248.4,454.5 L252.3,453.2 L256.2,457.1 L253.6,461.1 L253.0,465.0 L250.3,467.6 L249.7,468.9 L252.3,470.8 L260.1,471.5 L262.7,467.6 L265.4,463.7 L269.3,462.4 L271.9,466.3 L273.2,470.2 L269.9,474.1 L269.3,479.3 L271.9,485.9 L274.5,488.5 L279.7,491.1 L282.3,493.0 L286.2,497.6 L294.1,498.3 L296.7,501.5 M230.8,485.9 L228.8,489.8 L227.5,493.7 L223.6,497.6 L218.4,502.8 L214.4,504.1 L209.2,504.8 L204.0,506.7 M296.7,501.5 L300.6,498.9 L304.5,498.3 L307.1,493.7 L308.4,489.8 L308.4,483.2 L311.0,481.3 L315.0,481.3 L315.0,475.4 L319.0,475.4 M296.7,501.5 L295.4,505.4 L294.1,509.4 L287.6,508.0 L283.6,509.4 L283.6,512.0 M376.4,290.0 L377.7,293.9 L377.1,299.1 L379.1,303.1 L381.7,306.3 L384.3,308.9 L388.2,309.6 L390.1,310.9 L390.8,316.1 L390.1,320.7 L386.9,323.9 L384.3,327.2 L382.3,331.8 L381.7,337.0 L384.3,339.6 L388.2,342.9 L390.1,347.4 L389.5,352.7 L389.5,356.6 L387.5,360.5 L386.9,364.4 L384.3,367.0 L383.0,364.4 L381.0,363.8 L380.4,367.0 L379.1,369.0 L381.0,372.2 L383.0,377.5 L383.6,384.0 L385.6,390.5 L386.9,395.7 L388.2,399.7 L384.3,401.0 M388.2,309.6 L391.5,305.7 L394.1,307.0 L398.6,307.0 L397.3,310.9 L396.7,316.1 L399.9,320.0 L402.6,323.3 L407.8,323.7 L418.2,321.3 L422.1,318.7 L426.0,317.4 L431.3,316.1 L434.0,317.4 M407.1,323.7 L409.1,329.2 L409.1,339.6 L413.0,342.2 L415.6,343.5 L416.9,348.7 L418.2,354.0 L419.5,357.9 L420.8,361.8 L422.1,359.2 L422.1,352.7 L424.7,350.1 L430.0,349.4 L432.6,350.1 L434.0,351.4 M361.1,420.0 L352.2,421.9 L351.5,427.6 L342.0,428.9 L339.5,435.3 L329.3,437.2 L326.7,439.1 L326.7,442.3 L329.3,449.3 L329.3,454.4 L334.4,453.7 L335.6,448.0 L339.5,447.4 L343.9,444.8 L345.2,448.0 L348.4,454.4 L350.9,458.8 L353.5,459.5 L354.7,453.7 L355.4,449.9 L359.2,449.9 L361.1,448.0 L362.4,445.5 L365.5,446.7 M331.8,457.5 L331.2,462.0 L333.1,467.1 L337.5,469.0 L341.4,468.4 L345.2,466.5 L345.2,462.0 L343.3,456.9 L340.7,449.3 M331.8,457.5 L325.5,468.4 L321.6,474.7 L315.3,476.0 L314.6,480.5 L309.5,481.1 L308.3,489.4 L306.4,491.3 L305.7,498.3 L300.0,498.9 M365.5,446.7 L367.5,440.4 L369.4,442.9 L370.0,447.4 L371.3,450.5 L373.8,452.5 L377.6,452.5 L381.5,448.6 L384.6,444.8 L385.3,439.1 L386.5,434.0 L391.6,428.9 L394.8,427.0 L401.8,425.1 L404.4,428.3 L409.5,432.7 L414.5,432.7 L419.6,432.7 L422.2,437.8 L423.5,445.5 L426.0,446.7 L429.8,448.0 L433.6,451.8 L437.5,454.4 L440.0,454.4 M423.5,445.5 L427.3,448.0 L432.4,450.5 L435.5,453.1 L436.2,458.2 L434.9,463.3 L436.2,468.4 L437.5,473.5 L438.7,479.8 M433.6,496.4 L436.2,501.5 L437.5,506.5 L437.5,511.6 L436.8,520.0 M433.6,496.4 L437.5,498.9 L440.0,498.9 M457.5,290.0 L456.8,293.3 L452.3,295.9 L449.7,299.1 L443.1,302.4 L439.2,306.3 L439.2,312.8 L437.9,316.1 L434.0,317.4 M525.4,290.0 L524.7,295.2 L528.0,299.1 L529.3,303.1 L530.6,308.3 L533.2,313.5 L537.1,317.4 L542.4,320.0 L546.3,321.3 L545.0,323.9 L543.7,326.6 L546.3,329.2 L546.9,333.1 L547.6,338.3 L546.3,342.2 L543.7,343.5 L538.4,343.5 L535.2,344.8 L534.5,351.4 L533.2,356.6 L535.2,359.2 L535.2,365.7 L534.5,370.9 L531.9,374.9 L528.0,378.1 L525.4,378.8 M528.0,378.8 L533.2,380.1 L538.4,382.0 L543.7,384.0 L549.0,386.6 M622.1,290.0 L624.1,295.2 L627.3,299.1 L627.3,303.1 L629.9,305.7 L633.2,309.6 L633.9,312.2 L637.8,308.3 L640.4,305.7 L641.0,310.9 L645.6,312.8 L644.3,316.1 L645.0,321.3 L645.6,323.9 L641.7,325.9 L639.7,329.2 L636.5,333.1 L637.8,335.0 L640.4,334.4 L643.0,333.1 L645.6,337.0 L648.2,342.2 L652.1,346.1 L655.4,347.4 L656.0,351.4 L657.4,355.3 L658.7,360.5 L659.3,367.0 L661.3,368.3 L664.0,370.9 M548.0,387.4 L549.9,388.4 L554.9,386.0 L558.9,383.6 L559.7,387.0 M559.7,387.0 L562.1,390.5 L566.4,395.2 L568.6,395.7 L569.2,398.4 L567.9,401.0 M445.1,401.0 L448.4,404.9 L452.3,410.1 L449.7,416.7 L453.6,423.2 L454.9,428.4 L460.1,429.1 L465.3,429.1 L465.3,433.6 L461.4,434.9 L460.8,438.9 L456.2,440.8 L451.0,442.8 L448.4,445.4 L445.1,442.8 L443.1,445.4 L440.5,449.3 L437.9,451.9 L435.3,453.2 L434.0,450.6 M460.8,438.9 L466.6,441.5 L471.9,444.1 L477.1,448.0 L483.6,451.9 L486.2,454.5 L485.6,459.7 L488.8,463.7 L491.4,465.0 M435.3,453.2 L435.3,463.7 L437.9,474.1 L439.2,478.0 L441.8,483.2 L444.4,488.5 L445.7,493.7 L447.1,498.9 L449.7,504.1 L452.3,509.4 L453.6,512.0 M434.0,498.9 L447.1,498.9 M434.0,501.5 L436.6,505.4 L437.3,512.0 M484.3,401.0 L486.2,404.9 L488.8,411.4 L490.1,416.7 L490.8,424.5 L494.1,429.7 L496.7,433.6 L499.3,437.6 L500.6,441.5 L503.2,445.4 L504.5,450.6 L505.1,457.1 M491.4,465.0 L490.1,471.5 L490.8,479.3 L491.4,484.6 L490.1,489.8 L487.5,495.0 L486.2,496.3 L481.0,497.0 L479.0,500.2 L479.0,512.0 M491.4,465.0 L494.1,459.7 L495.4,455.8 L494.1,450.6 L491.4,448.0 L490.1,446.7 L495.4,442.8 L499.3,445.4 L499.9,451.9 M495.4,442.8 L503.2,441.5 L511.0,441.5 L512.3,438.9 L514.9,440.2 L518.9,444.1 L517.6,445.4 L511.0,446.0 L505.1,446.0 M518.9,444.1 L519.5,440.2 L520.2,436.2 L525.4,433.6 L528.0,428.4 L533.2,425.8 L538.4,426.5 L541.0,425.8 L542.4,428.4 L545.0,429.7 L546.3,432.3 L549.0,434.9 M518.9,444.1 L520.2,450.6 L524.1,458.4 L526.7,466.3 L530.6,470.2 L534.5,472.8 L535.8,476.7 L538.4,481.9 L537.1,484.6 L534.5,484.6 L532.6,487.2 L534.5,488.5 L538.4,487.2 L541.0,484.6 L541.0,479.3 L549.0,478.7 M509.1,471.5 L511.0,476.7 L512.3,481.9 L513.6,485.9 L514.9,491.1 L516.2,497.6 L517.6,505.4 M512.3,485.9 L504.5,488.5 L496.7,491.1 L491.4,493.7 L487.5,495.0 M487.5,496.3 L487.5,500.2 L490.1,502.8 L496.7,504.1 L499.3,505.4 L495.4,508.0 L494.1,512.0 M496.7,500.2 L498.0,496.3 L500.6,494.3 L502.5,495.0 L501.9,498.3 L499.3,500.2 L496.7,500.2 M549.0,484.6 L545.0,488.5 L541.0,492.4 L537.1,495.0 L533.2,498.3 L531.9,502.8 L531.3,512.0 M566.6,401.0 L568.6,403.0 L572.5,403.6 L577.7,403.0 L579.7,404.9 L579.0,410.1 L580.3,412.7 L582.9,415.4 L583.6,420.6 L582.3,427.1 L581.6,433.0 L577.7,434.9 L573.8,436.2 L575.8,438.9 L577.7,442.8 L578.4,448.0 L576.4,451.9 L573.8,455.8 L571.8,458.4 M581.6,433.0 L582.9,435.6 L586.9,436.2 L590.8,434.3 L594.7,432.3 L597.3,433.0 L598.0,436.2 L599.9,438.9 L602.5,439.5 L604.5,438.9 L605.1,436.2 L606.4,438.9 L607.1,442.8 L605.8,445.4 L601.2,444.1 L598.6,443.4 M549.0,436.9 L555.5,439.5 L562.1,442.8 L568.6,446.7 L569.9,450.6 L571.2,457.1 M598.6,443.4 L603.8,446.7 L607.7,448.7 L610.4,450.0 L614.3,451.3 L618.2,452.6 L620.1,453.2 M609.1,450.6 L609.1,455.2 L615.6,455.2 L620.1,454.5 L622.1,453.2 L624.1,451.3 L626.0,449.3 L627.3,447.3 L623.4,445.4 L627.3,444.1 L629.9,442.8 L637.8,440.2 L643.0,438.2 L648.2,436.2 L652.1,438.2 L656.0,437.6 L656.7,427.8 L660.0,430.4 L664.0,433.6 M620.1,455.8 L620.1,458.4 L624.7,459.1 L629.9,457.1 L631.2,458.4 L630.6,461.1 L627.3,463.7 L623.4,465.0 L620.1,467.6 L618.2,472.1 L620.8,475.4 L624.1,472.1 L626.0,473.5 L628.6,475.4 L632.6,476.7 L636.5,479.3 L637.8,481.9 L635.2,483.2 L629.9,484.6 L624.7,487.2 L620.1,491.1 L616.9,487.2 L616.2,481.9 L615.6,476.7 L611.7,474.1 L609.1,470.2 L606.4,467.6 L602.5,466.3 L599.9,466.3 L597.3,468.9 L593.4,468.9 L588.2,472.8 L584.9,473.5 L590.8,471.5 L596.0,467.6 L599.9,465.6 L605.1,465.6 L607.7,467.6 M631.2,458.4 L633.9,462.4 L635.2,468.9 L637.8,474.1 L639.1,478.0 L638.4,481.9 L635.2,484.6 L629.9,489.8 L627.3,493.7 L626.0,500.2 M598.6,468.9 L605.1,475.4 L610.4,480.6 L614.3,487.2 L616.9,492.4 L618.8,498.9 L619.5,505.4 L618.8,512.0 M635.2,489.8 L637.1,487.8 L639.1,489.5 L637.1,491.1 L635.2,489.8 M664.0,433.6 L657.4,438.9 L653.4,444.1 L652.1,450.6 L652.8,453.2 L650.8,458.4 L652.1,463.7 L653.4,468.9 L664.0,468.9 M549.0,479.3 L554.2,481.3 L549.0,482.6 M434.0,352.9 L437.5,357.6 L438.7,365.9 L440.5,372.9 L439.9,378.8 L438.1,384.7 L438.7,391.8 L444.6,394.1 L446.9,397.6 L445.8,401.2 L449.3,405.9 L452.2,409.4 L451.6,414.1 L450.5,416.5 L452.8,421.2 L454.6,427.1 L458.7,428.8 L464.6,429.4 L465.8,432.9 L462.2,434.1 L461.1,436.5 L461.6,440.0 M434.0,380.0 L440.5,380.6 M483.4,391.8 L485.8,389.4 L489.3,385.9 L492.8,384.1 L496.4,383.5 L499.9,382.4 L504.6,380.0 L511.6,377.6 L516.4,379.4 L523.4,378.8 L528.1,378.8 L534.0,380.0 M528.1,378.8 L531.6,375.3 L534.0,374.1 M483.4,391.8 L483.4,396.5 L484.6,402.4 L486.9,408.2 L489.3,412.9 L490.5,417.6 L490.5,424.7 L491.6,429.4 L495.2,432.9 L497.5,436.5 L499.9,440.0 M519.9,440.0 L521.1,436.5 L524.6,434.1 L529.3,429.4 L532.8,425.9 L534.0,424.7 M748.9,290.0 L747.6,295.2 L747.0,303.1 L747.6,309.6 L747.6,316.1 L747.0,325.3 L748.9,329.2 L750.9,333.1 L751.5,338.3 L752.8,340.9 L753.5,346.2 L750.2,350.1 L747.6,354.0 L745.0,357.9 L743.7,361.2 L742.4,364.5 L739.8,367.1 L735.2,369.0 L733.2,371.0 L730.6,373.6 L728.0,374.9 L726.7,378.8 L726.7,385.4 L722.8,388.0 L718.9,390.6 L713.6,393.2 L711.0,395.8 L708.4,399.7 L707.8,402.3 M751.5,338.3 L755.4,337.0 L758.1,334.4 L758.7,329.2 L763.3,328.5 L767.2,326.6 L771.1,322.7 L773.1,316.1 L776.3,312.2 L780.0,309.6 M771.1,322.7 L775.0,327.9 L777.7,330.5 L780.0,331.1 L780.7,339.6 M744.3,361.2 L743.7,355.3 L739.8,351.4 L734.5,350.1 L730.6,347.5 L728.7,342.3 L725.4,338.3 L720.2,337.0 L716.3,337.7 L712.3,338.3 L708.4,340.3 L705.8,341.6 L703.2,339.6 L699.3,342.9 L695.4,346.8 L691.4,346.2 L687.5,346.8 L684.9,350.7 L681.0,347.5 L680.3,343.6 L676.4,343.6 L675.8,354.0 L671.8,359.2 L669.2,364.5 L668.6,371.0 L666.6,372.3 L664.0,371.0 M703.2,399.7 L698.6,399.7 L697.3,401.0 M780.0,309.6 L782.6,313.5 L785.2,314.8 L790.5,314.2 L795.7,313.5 L797.0,309.6 L798.3,304.4 L797.0,299.1 L799.6,293.9 L804.2,291.3 L806.1,292.6 L810.0,296.5 L814.0,297.2 L819.2,295.9 L821.8,293.3 L823.1,290.7 L825.7,291.3 L828.3,293.9 L832.3,295.9 L837.5,296.5 L842.7,295.9 L846.6,297.8 L850.5,297.2 L851.8,293.9 L850.5,291.3 L851.2,290.0 M780.0,339.6 L783.9,338.3 L787.8,336.4 L793.1,336.4 L797.0,339.6 L800.2,342.3 L798.3,344.9 L797.0,350.7 L800.9,354.0 L800.9,357.9 L794.4,359.2 L790.5,359.2 L790.5,363.2 L787.8,364.5 L786.5,365.8 L786.5,368.4 L790.5,371.0 L794.4,373.6 L799.6,376.2 L803.5,380.1 L806.1,382.7 L810.0,380.1 L814.6,382.7 L815.3,388.0 L817.9,390.6 L819.2,394.5 L817.9,398.4 L819.2,401.0 M697.3,401.0 L695.4,403.6 L690.1,406.9 L684.9,408.8 L679.7,410.8 L677.1,413.4 L676.4,416.7 L677.1,420.6 L676.4,425.2 L678.4,429.7 L679.7,435.0 L683.6,438.9 L686.2,441.5 L687.5,445.4 L690.1,448.0 L689.5,450.6 L686.2,451.9 L683.6,452.6 M683.6,452.6 L679.7,438.9 L677.1,441.5 L671.8,440.8 M670.5,446.1 L677.1,446.1 L681.0,450.0 M683.6,452.6 L681.0,455.9 L677.1,461.1 L675.8,466.3 L673.8,471.5 L671.8,475.5 L676.4,475.5 L674.5,468.9 L670.5,467.6 L664.0,468.3 M694.0,435.6 L693.4,432.4 L691.4,431.7 M694.0,435.6 L700.6,434.3 L707.1,433.0 L711.0,433.7 L713.0,436.9 M713.0,432.4 L716.3,430.4 L722.8,429.7 L726.7,427.1 L731.9,422.6 L732.6,416.7 M732.6,422.6 L728.0,427.1 L724.1,431.0 L721.5,433.0 L720.2,435.0 L721.5,436.3 L733.2,436.3 M733.2,436.3 L735.8,438.9 L735.8,444.1 L737.2,448.0 L739.8,451.3 L745.0,451.3 L752.8,450.0 L758.1,452.6 L765.9,455.9 L766.5,453.3 L765.2,449.3 L767.2,446.7 L771.1,442.8 L765.9,442.8 L764.6,445.4 L760.7,441.5 L763.3,436.3 L767.2,431.0 L772.4,425.8 L776.3,422.6 L779.1,420.6 M740.4,440.2 L743.7,442.1 L747.6,440.8 L747.6,438.9 L745.0,436.3 M816.6,401.0 L817.2,404.3 L820.5,408.2 L824.4,410.1 L829.6,411.5 L833.6,414.1 L837.5,415.4 L840.1,417.3 L845.3,418.6 L848.6,418.6 L850.5,414.1 L853.2,413.4 L855.8,412.8 L858.4,412.8 L862.3,410.1 L866.2,407.5 L871.4,410.1 L876.7,413.4 L883.2,411.5 L888.4,410.1 L893.7,410.8 M780.0,420.6 L782.6,421.2 L783.9,425.2 L787.8,427.1 L793.1,428.4 L798.3,429.1 L800.2,431.7 L797.6,433.0 L797.6,436.3 L798.3,440.2 L800.2,444.1 L803.5,441.5 L807.4,436.3 L812.7,435.0 L817.9,432.4 L820.5,429.1 L821.8,431.7 L823.1,431.0 L827.0,427.8 L832.3,427.8 L836.2,427.1 L834.9,424.5 L837.5,420.6 L841.4,419.3 M837.5,420.6 L840.1,418.0 L842.7,419.9 L841.4,422.6 L838.1,425.2 M836.2,427.1 L838.8,431.0 L845.3,427.1 L850.5,421.9 L855.1,416.7 L857.1,413.4 M282.3,512.0 L279.7,519.8 L274.5,523.7 L278.4,527.7 L281.0,532.9 L279.7,540.7 L277.1,547.2 L282.3,544.6 L286.2,543.3 L292.8,548.6 L298.0,551.2 L303.2,553.8 L304.5,561.6 L311.0,566.8 L318.9,570.7 L321.5,574.7 L322.8,582.5 L324.1,590.3 L322.8,595.6 L318.9,600.8 L317.6,606.0 L315.0,609.9 L316.3,615.1 L308.4,615.1 L301.9,611.2 L300.6,603.4 L301.9,598.2 L298.0,595.6 L290.2,598.2 L281.0,600.8 M315.0,615.1 L315.0,621.7 M325.4,559.0 L329.3,556.4 L329.3,553.8 L331.9,556.4 L329.3,564.2 L326.7,566.8 L329.3,574.7 L331.9,582.5 L333.2,590.3 L331.9,598.2 L330.6,603.4 L324.1,608.6 L318.9,611.2 L316.3,615.1 M329.3,577.3 L337.2,576.0 L339.8,573.4 L345.0,574.7 L342.4,577.3 L337.2,578.6 M331.9,592.9 L339.8,598.2 L346.3,600.8 L348.9,604.7 L352.8,606.0 L359.4,604.7 L363.3,602.1 L365.9,595.6 L371.1,590.3 L375.0,586.4 L376.3,579.9 L378.9,576.0 L384.2,574.7 L389.4,573.4 L392.0,574.7 L394.6,581.2 L398.5,590.3 L402.4,587.7 L409.0,586.4 L412.9,579.9 L416.8,576.0 L420.7,572.1 L420.7,561.6 L418.1,551.2 L415.5,543.3 L420.7,538.1 L425.9,532.9 L431.2,529.0 L434.0,527.7 M418.1,551.2 L412.9,548.6 L411.6,559.0 L412.9,566.8 L415.5,577.3 L420.7,587.7 L423.3,592.9 L434.0,592.9 M412.9,587.7 L416.8,586.4 L418.1,590.3 L414.2,591.6 L412.9,587.7 M428.5,579.9 L431.2,582.5 L434.0,585.1 M347.6,633.4 L350.2,626.9 L355.4,621.7 L360.7,616.4 L365.9,615.1 L368.5,617.7 L364.6,621.7 L360.7,626.9 L358.0,630.8 L352.8,633.4 L347.6,633.4 M371.1,616.4 L376.3,611.2 L384.2,606.0 L392.0,603.4 L395.9,606.0 L392.0,608.6 L386.8,611.2 L384.2,616.4 L386.8,621.7 L385.5,626.9 L384.2,632.1 L381.5,637.3 L377.6,634.7 L376.3,629.5 L373.7,624.3 L371.1,619.0 M334.5,617.7 L335.9,623.0 L333.2,621.7 L334.5,617.7 M299.3,638.6 L301.1,640.5 L299.3,641.2 L299.3,638.6 M393.3,630.8 L398.5,631.6 L395.9,632.6 L393.3,630.8 M434.0,522.4 L436.6,523.7 L439.2,519.8 M454.9,512.0 L456.2,517.2 L460.1,522.4 L465.3,526.4 L475.8,525.1 L482.3,526.4 L481.0,530.3 L478.4,532.9 L473.2,535.5 L467.9,536.8 L465.3,540.7 L462.7,545.9 L460.1,551.2 L456.2,555.1 L453.6,559.0 L448.4,564.2 L444.4,568.1 L440.5,572.1 L437.9,573.4 M494.1,512.0 L495.4,517.2 L492.7,522.4 L490.1,527.7 L487.5,532.9 L488.8,536.8 L486.2,538.1 L490.1,540.7 L487.5,545.9 L490.1,552.5 L483.6,552.5 L477.1,551.2 L475.8,545.9 L477.1,542.0 L482.3,540.7 L486.2,538.1 M487.5,543.3 L494.1,544.6 L492.7,548.6 L488.8,547.2 M434.0,556.4 L439.2,557.7 L441.8,562.9 L439.2,566.8 L437.9,573.4 M447.1,553.8 L449.7,559.0 L453.6,560.3 M454.9,561.6 L457.5,555.1 L462.7,552.5 L467.9,553.8 L466.6,561.6 L465.3,566.8 L460.1,566.8 L454.9,564.2 M441.8,579.9 L447.1,574.7 L452.3,578.6 L452.3,583.8 L448.4,586.4 L441.8,579.9 M434.0,587.7 L439.2,587.7 M434.0,590.3 L439.2,590.3 M434.0,594.2 L439.2,595.0 M522.8,513.3 L525.4,522.4 L527.5,529.0 L531.9,535.5 L536.3,541.2 L618.6,541.2 L618.6,512.0 M531.9,512.0 L531.9,519.8 L528.0,525.1 M265.3,195.3 L272.4,202.9 L278.8,202.9 L279.4,198.8 L283.5,191.2 L287.6,196.5 L296.5,205.3 L297.6,202.4 L301.8,200.0 L302.9,195.9 L307.6,194.7 L307.6,169.4 L311.2,169.4 L313.5,171.8 L321.2,173.5 L324.7,179.4 L330.6,185.3 L331.2,189.4 L335.3,189.4 L334.7,200.6 L333.5,202.4 L332.4,211.8 L335.9,215.9 L339.4,216.5 L342.9,223.5 L344.1,230.6 L346.5,232.9 L346.5,239.4 L350.0,239.4 M375.3,69.5 L375.3,76.6 L378.8,77.8 L380.6,80.1 L380.6,86.2 L388.2,86.0 L395.9,84.8 L404.1,84.0 L410.6,83.4 L411.8,77.8 L412.4,71.3 L410.0,69.5 M410.6,83.4 L412.4,87.2 L414.1,92.5 L410.0,94.2 L405.3,97.2 L404.1,98.9 L404.7,103.6 L402.9,107.2 L401.2,110.7 L401.8,113.1 L398.2,116.6 L397.6,120.1 L397.6,123.6 L398.2,126.0 L396.5,130.7 L394.7,133.6 L397.1,136.0 L401.2,137.2 L404.1,136.6 L406.5,138.4 L407.1,142.5 L410.0,146.0 L413.5,149.5 L414.1,153.1 L417.1,157.2 L421.8,157.2 L424.1,153.6 L427.6,153.6 L431.2,156.6 L434.1,158.9 L437.6,163.6 L438.8,166.0 M434.1,158.9 L434.1,155.4 L439.4,147.2 L440.0,151.9 L444.1,150.7 L447.6,155.4 L450.0,157.2 M350.0,239.0 L352.8,241.6 L363.3,244.2 L368.5,248.2 L365.9,261.2 L368.5,269.0 L371.1,274.3 L375.0,284.7 L377.6,289.9 L378.4,292.5 M204.0,295.9 L206.6,295.9 L213.1,295.2 L221.0,293.9 L221.0,289.3 M205.9,645.9 L208.7,644.0 L210.1,648.3 L215.3,646.9 L219.1,645.0 L217.2,641.2 L220.9,644.0 L226.6,646.4 L228.5,644.0 L228.5,638.4 L230.4,633.7 L235.1,632.7 L239.8,630.8 L245.4,629.9 L241.7,628.0 L238.8,626.1 L242.6,625.2 L243.5,622.4 L244.5,620.5 L241.7,621.4 L245.4,619.5 L247.3,617.7 L245.4,614.8 L241.7,613.0 L238.8,611.1 L237.0,613.4 L236.0,611.1 L232.2,607.3 L230.4,605.4 L227.5,606.8 L224.2,606.4 L227.5,603.5 L229.4,602.6 L230.8,604.5 L232.2,603.5 L234.1,601.7 L236.0,605.0 L237.9,602.6 L239.8,604.0 L241.7,605.4 L242.6,603.5 L244.5,601.2 L246.4,604.5 L247.3,609.2 L248.3,606.4 L252.0,605.4 L253.4,603.5 L253.4,610.1 L251.1,612.0 L248.3,614.8 L251.1,616.7 L253.0,618.6 L256.7,619.5 L259.6,617.7 L260.5,619.5 L261.4,622.4 L260.5,623.3 L256.7,624.3 L253.0,624.7 L252.0,627.1 L253.9,629.0 L253.0,630.8 L251.1,631.8 L248.3,633.7 L250.1,635.6 L249.2,637.4 L248.3,639.3 L251.1,638.4 L254.8,638.4 L257.7,636.0 L260.5,633.7 L262.4,630.8 L264.3,631.8 L268.0,632.3 L271.8,630.8 L275.6,628.0 L277.0,626.1 L275.6,624.3 L272.7,623.3 L271.8,622.4 L269.9,624.3 L268.0,625.2 L264.3,625.2 L263.3,624.3 L262.4,621.4 L261.4,617.7 L262.4,614.8 L265.2,612.0 L269.9,609.2 L273.7,607.3 L276.5,606.4 L275.6,605.0 L272.7,603.1 L268.0,601.2 L269.9,602.6 L273.7,603.5 L276.5,602.6 L277.4,601.7 L278.4,600.7 L279.3,601.7 L284.0,601.2 L288.7,600.2 L294.0,600.2 M276.5,602.6 L275.6,598.8 L276.5,596.0 L278.4,593.2 L280.3,591.3 L281.7,589.4 L281.7,585.2 M508.5,541.8 L511.5,542.5 L509.7,544.0 L508.5,541.8 M525.3,541.8 L527.2,544.0 L526.0,546.2 L524.5,544.0 L525.3,541.8 M507.8,549.5 L510.7,551.0 L509.3,551.6 L507.8,549.5 M553.6,547.6 L556.5,548.4 L555.4,551.0 L553.6,547.6 M538.4,557.8 L541.3,559.3 L539.1,560.7 L538.4,557.8 M507.1,561.7 L512.2,562.9 L508.5,564.4 L507.1,561.7 M513.6,568.7 L517.3,567.0 L517.7,572.4 L513.6,568.7 M525.3,564.4 L527.2,566.5 L526.0,568.4 L524.8,566.5 L525.3,564.4 M506.4,573.1 L510.0,573.8 L512.9,576.0 L515.1,577.7 L511.5,578.6 L508.5,576.7 L506.4,575.3 L506.4,573.1 M566.7,568.0 L570.4,566.5 L571.8,568.4 L568.9,569.5 L566.7,568.0 M574.7,564.7 L580.5,564.7 L580.5,567.3 L575.2,567.3 L574.7,564.7 M554.4,585.5 L558.0,581.8 L559.5,584.0 L554.4,585.5 M488.2,544.7 L494.0,544.7 L489.6,548.4 L488.2,544.7 M522.4,496.0 L525.3,496.7 L524.5,499.6 L522.4,496.0" fill="none" stroke="#000" stroke-width="1" stroke-linejoin="round"/>
<path d="M315.0,621.7 L311.0,671.3" fill="none" stroke="#000" stroke-width="1.2" stroke-dasharray="9,5"/>
<path d="M260.1,94.1 L257.5,82.4 M255.5,87.6 L257.5,82.4 L261.5,86.3 M320.2,94.1 L315.0,84.2 M314.5,89.8 L315.0,84.2 L319.9,86.9 M378.8,94.2 L378.2,76.6 M375.3,81.4 L378.2,76.6 L381.4,81.2 M439.4,94.2 L430.6,79.5 M430.4,85.1 L430.6,79.5 L435.6,82.0 M498.0,93.5 L498.0,83.5 M495.0,88.1 L498.0,83.5 L501.0,88.1 M558.8,94.1 L558.8,84.2 M555.8,88.8 L558.8,84.2 L561.8,88.8 M618.0,94.1 L618.0,82.4 M615.0,87.1 L618.0,82.4 L621.0,87.1 M677.0,94.1 L673.1,79.7 M671.4,85.0 L673.1,79.7 L677.3,83.4 M737.1,94.1 L737.1,81.1 M734.1,85.8 L737.1,81.1 L740.1,85.8 M797.2,94.1 L795.9,81.1 M793.3,86.1 L795.9,81.1 L799.4,85.5 M857.2,94.1 L855.9,82.4 M853.4,87.4 L855.9,82.4 L859.4,86.7 M260.1,166.7 L252.3,159.4 M253.6,164.8 L252.3,159.4 L257.8,160.4 M320.2,165.9 L312.4,159.4 M314.1,164.7 L312.4,159.4 L317.9,160.1 M380.2,166.7 L372.4,158.5 M373.4,164.0 L372.4,158.5 L377.8,159.8 M437.9,165.9 L434.0,154.2 M432.6,159.6 L434.0,154.2 L438.4,157.7 M499.3,165.9 L494.0,152.9 M492.9,158.4 L494.0,152.9 L498.6,156.1 M558.8,166.7 L552.8,156.8 M552.6,162.4 L552.8,156.8 L557.8,159.2 M618.0,166.7 L614.2,150.2 M612.3,155.5 L614.2,150.2 L618.2,154.1 M678.4,165.9 L673.9,155.5 M673.0,161.0 L673.9,155.5 L678.6,158.6 M737.1,165.9 L733.2,154.2 M731.8,159.6 L733.2,154.2 L737.6,157.7 M797.2,165.9 L794.5,154.2 M792.6,159.5 L794.5,154.2 L798.5,158.1 M858.5,165.9 L854.1,159.4 M854.2,163.7 L854.1,159.4 L858.1,161.1 M261.4,236.4 L247.1,232.0 M250.7,236.3 L247.1,232.0 L252.5,230.5 M320.2,237.2 L311.6,227.8 M312.5,233.3 L311.6,227.8 L317.0,229.2 M379.5,237.2 L372.4,229.4 M373.3,234.9 L372.4,229.4 L377.8,230.8 M437.9,237.7 L434.0,227.3 M432.8,232.8 L434.0,227.3 L438.5,230.6 M499.3,237.7 L490.9,227.8 M491.6,233.4 L490.9,227.8 L496.3,229.4 M558.8,237.7 L547.6,225.4 M548.5,230.9 L547.6,225.4 L553.0,226.8 M618.0,237.7 L613.6,228.6 M612.9,234.1 L613.6,228.6 L618.4,231.5 M678.4,237.2 L673.1,227.8 M672.7,233.4 L673.1,227.8 L678.1,230.4 M737.1,237.2 L730.6,229.4 M731.3,234.9 L730.6,229.4 L735.9,231.1 M797.2,237.2 L793.2,228.6 M792.5,233.8 L793.2,228.6 L797.6,231.4 M857.2,237.2 L848.9,224.7 M849.0,230.3 L848.9,224.7 L854.0,226.9 M260.8,309.6 L247.1,298.5 M248.8,303.8 L247.1,298.5 L252.7,299.1 M319.0,308.3 L303.2,300.4 M306.0,305.2 L303.2,300.4 L308.8,299.8 M379.7,309.6 L366.0,305.0 M369.5,309.4 L366.0,305.0 L371.4,303.6 M438.2,308.8 L430.3,301.8 M431.8,307.2 L430.3,301.8 L435.8,302.6 M499.3,309.6 L486.2,299.8 M488.1,305.1 L486.2,299.8 L491.8,300.2 M558.8,309.6 L551.0,306.7 M553.7,310.4 L551.0,306.7 L555.5,305.7 M618.8,309.6 L609.0,301.5 M610.7,306.8 L609.0,301.5 L614.6,302.1 M679.0,309.6 L667.9,298.5 M669.1,304.0 L667.9,298.5 L673.4,299.7 M737.8,309.6 L727.4,301.5 M729.2,306.8 L727.4,301.5 L733.0,302.0 M795.7,309.6 L781.3,297.2 M782.9,302.6 L781.3,297.2 L786.8,298.0 M857.7,309.6 L841.4,298.5 M843.6,303.7 L841.4,298.5 L847.0,298.6 M260.4,380.5 L243.5,375.3 M247.1,379.6 L243.5,375.3 L248.9,373.8 M319.0,380.0 L303.2,373.5 M306.4,378.1 L303.2,373.5 L308.7,372.5 M379.7,380.0 L367.3,378.8 M371.7,382.3 L367.3,378.8 L372.3,376.2 M438.5,380.0 L428.7,378.8 M432.9,382.3 L428.7,378.8 L433.6,376.4 M499.3,380.6 L488.1,376.5 M491.5,381.0 L488.1,376.5 L493.6,375.3 M559.3,380.3 L545.0,373.2 M547.9,378.0 L545.0,373.2 L550.6,372.6 M618.8,380.7 L606.4,368.3 M607.6,373.8 L606.4,368.3 L611.9,369.5 M679.0,380.1 L665.3,372.3 M667.9,377.3 L665.3,372.3 L670.9,372.0 M737.8,380.1 L723.4,371.6 M725.9,376.6 L723.4,371.6 L729.0,371.4 M797.0,380.1 L780.0,371.0 M782.7,375.9 L780.0,371.0 L785.6,370.5 M857.7,380.1 L836.2,371.6 M839.4,376.2 L836.2,371.6 L841.7,370.5 M260.8,452.6 L245.1,443.4 M247.6,448.4 L245.1,443.4 L250.7,443.1 M320.4,452.5 L301.3,443.5 M304.2,448.3 L301.3,443.5 L306.8,442.7 M379.0,453.0 L363.5,446.0 M366.5,450.7 L363.5,446.0 L369.0,445.2 M438.5,453.0 L423.0,445.6 M425.9,450.4 L423.0,445.6 L428.6,444.9 M499.3,452.5 L494.0,437.0 M492.6,442.4 L494.0,437.0 L498.4,440.5 M558.8,452.6 L539.1,446.0 M542.6,450.4 L539.1,446.0 L544.5,444.6 M620.0,453.0 L598.6,443.4 M601.6,448.1 L598.6,443.4 L604.1,442.5 M679.0,452.6 L654.6,446.5 M658.4,450.6 L654.6,446.5 L659.9,444.7 M737.2,452.0 L715.6,446.7 M719.4,450.8 L715.6,446.7 L720.9,444.9 M797.6,452.6 L772.4,452.6 M777.1,455.6 L772.4,452.6 L777.1,449.6 M857.7,452.6 L833.6,458.5 M838.9,460.3 L833.6,458.5 L837.4,454.4 M260.1,524.5 L245.8,518.5 M249.0,523.1 L245.8,518.5 L251.3,517.5 M320.2,523.7 L303.2,523.7 M307.9,526.7 L303.2,523.7 L307.9,520.7 M378.9,523.7 L360.7,514.6 M363.5,519.4 L360.7,514.6 L366.3,514.0 M438.5,524.5 L420.7,514.6 M423.3,519.5 L420.7,514.6 L426.3,514.2 M499.5,524.0 L476.8,519.4 M480.8,523.3 L476.8,519.4 L482.0,517.3 M558.0,523.7 L533.2,519.8 M537.4,523.5 L533.2,519.8 L538.3,517.5 M618.0,525.0 L593.3,527.7 M598.3,530.2 L593.3,527.7 L597.6,524.2 M678.4,523.7 L650.7,528.2 M655.8,530.5 L650.7,528.2 L654.8,524.4 M738.4,523.7 L714.9,530.8 M720.3,532.4 L714.9,530.8 L718.5,526.5 M797.7,524.5 L769.0,526.4 M773.9,529.1 L769.0,526.4 L773.5,523.0 M857.7,523.7 L831.1,523.7 M835.8,526.7 L831.1,523.7 L835.8,520.7 M260.1,595.6 L240.6,586.4 M243.5,591.2 L240.6,586.4 L246.1,585.6 M320.2,595.6 L296.7,586.9 M300.0,591.4 L296.7,586.9 L302.2,585.7 M378.9,595.6 L354.1,590.3 M358.1,594.3 L354.1,590.3 L359.3,588.3 M438.5,595.6 L419.4,594.2 M423.9,597.6 L419.4,594.2 L424.3,591.5 M499.3,595.0 L478.4,595.6 M483.2,598.5 L478.4,595.6 L483.0,592.4 M558.8,595.6 L535.8,598.7 M540.9,601.1 L535.8,598.7 L540.0,595.1 M618.9,595.6 L592.5,600.0 M597.6,602.2 L592.5,600.0 L596.6,596.2 M678.4,595.6 L650.2,602.1 M655.5,604.0 L650.2,602.1 L654.1,598.1 M738.4,595.6 L708.9,600.0 M714.0,602.3 L708.9,600.0 L713.1,596.3 M797.7,595.0 L769.2,595.6 M774.0,598.6 L769.2,595.6 L773.8,592.5 M857.7,595.0 L832.4,595.0 M837.1,598.0 L832.4,595.0 L837.1,592.0 M260.1,667.4 L234.0,663.0 M238.1,666.8 L234.0,663.0 L239.1,660.8 M320.2,667.4 L291.5,664.7 M295.9,668.2 L291.5,664.7 L296.5,662.1 M378.9,667.4 L351.5,666.6 M356.1,669.8 L351.5,666.6 L356.3,663.7 M439.2,667.4 L416.8,666.0 M421.3,669.3 L416.8,666.0 L421.7,663.2 M499.3,667.4 L476.3,667.9 M481.1,670.8 L476.3,667.9 L480.9,664.7 M558.8,667.9 L538.4,668.1 M543.1,671.1 L538.4,668.1 L543.1,665.0 M618.9,667.4 L594.0,672.6 M599.2,674.6 L594.0,672.6 L598.0,668.7 M678.4,667.4 L653.3,672.6 M658.5,674.6 L653.3,672.6 L657.3,668.7 M738.4,667.4 L708.4,672.6 M713.5,674.8 L708.4,672.6 L712.5,668.8 M797.7,667.9 L770.5,669.4 M775.4,672.2 L770.5,669.4 L775.0,666.1 M857.7,667.4 L834.2,663.4 M838.3,667.2 L834.2,663.4 L839.3,661.2" fill="none" stroke="#000" stroke-width="1"/>
<polygon points="410.5,279.1 415.3,279.1 418.0,281.8 418.0,286.6 415.3,289.3 410.5,289.3 407.8,286.6 407.8,281.8" fill="none" stroke="#7a00dc" stroke-width="2"/>
<polygon points="494.3,90.3 499.1,90.3 501.8,93.0 501.8,97.8 499.1,100.5 494.3,100.5 491.6,97.8 491.6,93.0" fill="none" stroke="#7a00dc" stroke-width="2"/>
<polygon points="640.5,274.4 645.3,274.4 648.0,277.1 648.0,281.9 645.3,284.6 640.5,284.6 637.8,281.9 637.8,277.1" fill="none" stroke="#7a00dc" stroke-width="2"/>
<polygon points="837.1,138.6 841.9,138.6 844.6,141.3 844.6,146.1 841.9,148.8 837.1,148.8 834.4,146.1 834.4,141.3" fill="none" stroke="#7a00dc" stroke-width="2"/>
<polygon points="274.1,407.0 278.9,407.0 281.6,409.7 281.6,414.5 278.9,417.2 274.1,417.2 271.4,414.5 271.4,409.7" fill="none" stroke="#7a00dc" stroke-width="2"/>
<polygon points="331.6,386.7 336.4,386.7 339.1,389.4 339.1,394.2 336.4,396.9 331.6,396.9 328.9,394.2 328.9,389.4" fill="none" stroke="#7a00dc" stroke-width="2"/>
<polygon points="424.3,386.7 429.1,386.7 431.8,389.4 431.8,394.2 429.1,396.9 424.3,396.9 421.6,394.2 421.6,389.4" fill="none" stroke="#7a00dc" stroke-width="2"/>
<polygon points="417.9,460.1 422.7,460.1 425.4,462.8 425.4,467.6 422.7,470.3 417.9,470.3 415.2,467.6 415.2,462.8" fill="none" stroke="#7a00dc" stroke-width="2"/>
<polygon points="602.7,380.9 607.5,380.9 610.2,383.6 610.2,388.4 607.5,391.1 602.7,391.1 600.0,388.4 600.0,383.6" fill="none" stroke="#7a00dc" stroke-width="2"/>
<polygon points="461.6,474.9 466.4,474.9 469.1,477.6 469.1,482.4 466.4,485.1 461.6,485.1 458.9,482.4 458.9,477.6" fill="none" stroke="#7a00dc" stroke-width="2"/>
<polygon points="557.0,458.3 561.8,458.3 564.5,461.0 564.5,465.8 561.8,468.5 557.0,468.5 554.3,465.8 554.3,461.0" fill="none" stroke="#7a00dc" stroke-width="2"/>
<polygon points="440.4,369.0 445.2,369.0 447.9,371.7 447.9,376.5 445.2,379.2 440.4,379.2 437.7,376.5 437.7,371.7" fill="none" stroke="#7a00dc" stroke-width="2"/>
<polygon points="512.8,389.0 517.6,389.0 520.3,391.7 520.3,396.5 517.6,399.2 512.8,399.2 510.1,396.5 510.1,391.7" fill="none" stroke="#7a00dc" stroke-width="2"/>
<polygon points="871.7,304.2 876.5,304.2 879.2,306.9 879.2,311.7 876.5,314.4 871.7,314.4 869.0,311.7 869.0,306.9" fill="none" stroke="#7a00dc" stroke-width="2"/>
<polygon points="737.4,430.5 742.2,430.5 744.9,433.2 744.9,438.0 742.2,440.7 737.4,440.7 734.7,438.0 734.7,433.2" fill="none" stroke="#7a00dc" stroke-width="2"/>
<polygon points="481.2,510.8 486.0,510.8 488.7,513.5 488.7,518.3 486.0,521.0 481.2,521.0 478.5,518.3 478.5,513.5" fill="none" stroke="#7a00dc" stroke-width="2"/>
<polygon points="264.2,585.7 269.0,585.7 271.7,588.4 271.7,593.2 269.0,595.9 264.2,595.9 261.5,593.2 261.5,588.4" fill="none" stroke="#7a00dc" stroke-width="2"/>
</g>
<rect x="205" y="69" width="690" height="663" fill="none" stroke="#000" stroke-width="2"/>
<line x1="198" y1="732.5" x2="206" y2="732.5" stroke="#ff2a2a" stroke-width="1"/>
<text x="152.60" y="740.26" font-family="'Liberation Serif', serif" font-weight="400" font-size="24.24" textLength="38.90" lengthAdjust="spacingAndGlyphs" fill="#ff2a2a" stroke="#fff" stroke-width="0.3">21N</text>
<line x1="198" y1="649.5" x2="206" y2="649.5" stroke="#ff2a2a" stroke-width="1"/>
<text x="133.05" y="657.38" font-family="'Liberation Serif', serif" font-weight="400" font-size="24.24" textLength="58.47" lengthAdjust="spacingAndGlyphs" fill="#ff2a2a" stroke="#fff" stroke-width="0.3">21.5N</text>
<line x1="198" y1="566.5" x2="206" y2="566.5" stroke="#ff2a2a" stroke-width="1"/>
<text x="152.60" y="574.51" font-family="'Liberation Serif', serif" font-weight="400" font-size="24.24" textLength="38.90" lengthAdjust="spacingAndGlyphs" fill="#ff2a2a" stroke="#fff" stroke-width="0.3">22N</text>
<line x1="198" y1="483.5" x2="206" y2="483.5" stroke="#ff2a2a" stroke-width="1"/>
<text x="133.05" y="491.63" font-family="'Liberation Serif', serif" font-weight="400" font-size="24.24" textLength="58.47" lengthAdjust="spacingAndGlyphs" fill="#ff2a2a" stroke="#fff" stroke-width="0.3">22.5N</text>
<line x1="198" y1="400.5" x2="206" y2="400.5" stroke="#ff2a2a" stroke-width="1"/>
<text x="152.60" y="408.76" font-family="'Liberation Serif', serif" font-weight="400" font-size="24.24" textLength="38.90" lengthAdjust="spacingAndGlyphs" fill="#ff2a2a" stroke="#fff" stroke-width="0.3">23N</text>
<line x1="198" y1="318.5" x2="206" y2="318.5" stroke="#ff2a2a" stroke-width="1"/>
<text x="133.05" y="325.88" font-family="'Liberation Serif', serif" font-weight="400" font-size="24.24" textLength="58.47" lengthAdjust="spacingAndGlyphs" fill="#ff2a2a" stroke="#fff" stroke-width="0.3">23.5N</text>
<line x1="198" y1="235.5" x2="206" y2="235.5" stroke="#ff2a2a" stroke-width="1"/>
<text x="152.60" y="243.01" font-family="'Liberation Serif', serif" font-weight="400" font-size="24.24" textLength="38.90" lengthAdjust="spacingAndGlyphs" fill="#ff2a2a" stroke="#fff" stroke-width="0.3">24N</text>
<line x1="198" y1="152.5" x2="206" y2="152.5" stroke="#ff2a2a" stroke-width="1"/>
<text x="133.05" y="160.13" font-family="'Liberation Serif', serif" font-weight="400" font-size="24.24" textLength="58.47" lengthAdjust="spacingAndGlyphs" fill="#ff2a2a" stroke="#fff" stroke-width="0.3">24.5N</text>
<line x1="205.5" y1="732" x2="205.5" y2="739" stroke="#ff2a2a" stroke-width="1"/>
<text x="170.29" y="759.26" font-family="'Liberation Serif', serif" font-weight="400" font-size="24.33" textLength="69.93" lengthAdjust="spacingAndGlyphs" fill="#ff2a2a" stroke="#fff" stroke-width="0.3">111.5E</text>
<line x1="274.5" y1="732" x2="274.5" y2="739" stroke="#ff2a2a" stroke-width="1"/>
<text x="249.11" y="759.26" font-family="'Liberation Serif', serif" font-weight="400" font-size="24.33" textLength="50.50" lengthAdjust="spacingAndGlyphs" fill="#ff2a2a" stroke="#fff" stroke-width="0.3">112E</text>
<line x1="343.5" y1="732" x2="343.5" y2="739" stroke="#ff2a2a" stroke-width="1"/>
<text x="308.32" y="759.26" font-family="'Liberation Serif', serif" font-weight="400" font-size="24.33" textLength="70.07" lengthAdjust="spacingAndGlyphs" fill="#ff2a2a" stroke="#fff" stroke-width="0.3">112.5E</text>
<line x1="412.5" y1="732" x2="412.5" y2="739" stroke="#ff2a2a" stroke-width="1"/>
<text x="387.11" y="759.26" font-family="'Liberation Serif', serif" font-weight="400" font-size="24.33" textLength="50.50" lengthAdjust="spacingAndGlyphs" fill="#ff2a2a" stroke="#fff" stroke-width="0.3">113E</text>
<line x1="481.5" y1="732" x2="481.5" y2="739" stroke="#ff2a2a" stroke-width="1"/>
<text x="446.32" y="759.26" font-family="'Liberation Serif', serif" font-weight="400" font-size="24.33" textLength="70.07" lengthAdjust="spacingAndGlyphs" fill="#ff2a2a" stroke="#fff" stroke-width="0.3">113.5E</text>
<line x1="550.5" y1="732" x2="550.5" y2="739" stroke="#ff2a2a" stroke-width="1"/>
<text x="525.11" y="759.26" font-family="'Liberation Serif', serif" font-weight="400" font-size="24.33" textLength="50.50" lengthAdjust="spacingAndGlyphs" fill="#ff2a2a" stroke="#fff" stroke-width="0.3">114E</text>
<line x1="619.5" y1="732" x2="619.5" y2="739" stroke="#ff2a2a" stroke-width="1"/>
<text x="584.32" y="759.26" font-family="'Liberation Serif', serif" font-weight="400" font-size="24.33" textLength="70.07" lengthAdjust="spacingAndGlyphs" fill="#ff2a2a" stroke="#fff" stroke-width="0.3">114.5E</text>
<line x1="688.5" y1="732" x2="688.5" y2="739" stroke="#ff2a2a" stroke-width="1"/>
<text x="663.11" y="759.26" font-family="'Liberation Serif', serif" font-weight="400" font-size="24.33" textLength="50.50" lengthAdjust="spacingAndGlyphs" fill="#ff2a2a" stroke="#fff" stroke-width="0.3">115E</text>
<line x1="757.5" y1="732" x2="757.5" y2="739" stroke="#ff2a2a" stroke-width="1"/>
<text x="722.32" y="759.26" font-family="'Liberation Serif', serif" font-weight="400" font-size="24.33" textLength="70.07" lengthAdjust="spacingAndGlyphs" fill="#ff2a2a" stroke="#fff" stroke-width="0.3">115.5E</text>
<line x1="826.5" y1="732" x2="826.5" y2="739" stroke="#ff2a2a" stroke-width="1"/>
<text x="801.11" y="759.26" font-family="'Liberation Serif', serif" font-weight="400" font-size="24.33" textLength="50.50" lengthAdjust="spacingAndGlyphs" fill="#ff2a2a" stroke="#fff" stroke-width="0.3">116E</text>
<text x="940.66" y="107.87" font-family="'Liberation Serif', serif" font-weight="400" font-size="24.44" textLength="92.03" lengthAdjust="spacingAndGlyphs" fill="#000" stroke="#fff" stroke-width="0.3">(ug/m3)</text>
<rect x="957.5" y="127.60" width="40" height="22.90" fill="#8228dc" stroke="#000" stroke-width="1.1"/>
<rect x="957.5" y="150.50" width="40" height="22.90" fill="#9632c8" stroke="#000" stroke-width="1.1"/>
<rect x="957.5" y="173.39" width="40" height="22.90" fill="#af2d5a" stroke="#000" stroke-width="1.1"/>
<rect x="957.5" y="196.29" width="40" height="22.90" fill="#c81482" stroke="#000" stroke-width="1.1"/>
<rect x="957.5" y="219.18" width="40" height="22.90" fill="#ff0000" stroke="#000" stroke-width="1.1"/>
<rect x="957.5" y="242.08" width="40" height="22.90" fill="#f50046" stroke="#000" stroke-width="1.1"/>
<rect x="957.5" y="264.98" width="40" height="22.90" fill="#f52d55" stroke="#000" stroke-width="1.1"/>
<rect x="957.5" y="287.87" width="40" height="22.90" fill="#ff6464" stroke="#000" stroke-width="1.1"/>
<rect x="957.5" y="310.77" width="40" height="22.90" fill="#ee5f2d" stroke="#000" stroke-width="1.1"/>
<rect x="957.5" y="333.67" width="40" height="22.90" fill="#ff8c00" stroke="#000" stroke-width="1.1"/>
<rect x="957.5" y="356.56" width="40" height="22.90" fill="#fcaf28" stroke="#000" stroke-width="1.1"/>
<rect x="957.5" y="379.46" width="40" height="22.90" fill="#f5b950" stroke="#000" stroke-width="1.1"/>
<rect x="957.5" y="402.35" width="40" height="22.90" fill="#ffe400" stroke="#000" stroke-width="1.1"/>
<rect x="957.5" y="425.25" width="40" height="22.90" fill="#ffee00" stroke="#000" stroke-width="1.1"/>
<rect x="957.5" y="448.15" width="40" height="22.90" fill="#f0de64" stroke="#000" stroke-width="1.1"/>
<rect x="957.5" y="471.04" width="40" height="22.90" fill="#f3f36e" stroke="#000" stroke-width="1.1"/>
<rect x="957.5" y="493.94" width="40" height="22.90" fill="#6ea83c" stroke="#000" stroke-width="1.1"/>
<rect x="957.5" y="516.83" width="40" height="22.90" fill="#8cc850" stroke="#000" stroke-width="1.1"/>
<rect x="957.5" y="539.73" width="40" height="22.90" fill="#c4e080" stroke="#000" stroke-width="1.1"/>
<rect x="957.5" y="562.63" width="40" height="22.90" fill="#c0d480" stroke="#000" stroke-width="1.1"/>
<rect x="957.5" y="585.52" width="40" height="22.90" fill="#dee9bb" stroke="#000" stroke-width="1.1"/>
<rect x="957.5" y="608.42" width="40" height="22.90" fill="#448ac0" stroke="#000" stroke-width="1.1"/>
<rect x="957.5" y="631.32" width="40" height="22.90" fill="#6caede" stroke="#000" stroke-width="1.1"/>
<rect x="957.5" y="654.21" width="40" height="22.90" fill="#a3daf4" stroke="#000" stroke-width="1.1"/>
<rect x="957.5" y="677.11" width="40" height="22.90" fill="#daf0fa" stroke="#000" stroke-width="1.1"/>
<rect x="957.5" y="700.00" width="40" height="22.90" fill="#ffffff" stroke="#000" stroke-width="1.1"/>
<text x="1003.47" y="159.50" font-family="'Liberation Serif', serif" font-weight="400" font-size="25.22" textLength="39.69" lengthAdjust="spacingAndGlyphs" fill="#000" stroke="#fff" stroke-width="0.3">403</text>
<text x="1002.65" y="205.29" font-family="'Liberation Serif', serif" font-weight="400" font-size="25.22" textLength="40.53" lengthAdjust="spacingAndGlyphs" fill="#000" stroke="#fff" stroke-width="0.3">368</text>
<text x="1002.65" y="251.08" font-family="'Liberation Serif', serif" font-weight="400" font-size="25.22" textLength="40.53" lengthAdjust="spacingAndGlyphs" fill="#000" stroke="#fff" stroke-width="0.3">325</text>
<text x="1002.93" y="296.87" font-family="'Liberation Serif', serif" font-weight="400" font-size="25.22" textLength="40.25" lengthAdjust="spacingAndGlyphs" fill="#000" stroke="#fff" stroke-width="0.3">275</text>
<text x="1002.93" y="342.66" font-family="'Liberation Serif', serif" font-weight="400" font-size="25.22" textLength="40.25" lengthAdjust="spacingAndGlyphs" fill="#000" stroke="#fff" stroke-width="0.3">225</text>
<text x="1001.50" y="388.46" font-family="'Liberation Serif', serif" font-weight="400" font-size="25.22" textLength="41.72" lengthAdjust="spacingAndGlyphs" fill="#000" stroke="#fff" stroke-width="0.3">175</text>
<text x="1001.50" y="434.25" font-family="'Liberation Serif', serif" font-weight="400" font-size="25.22" textLength="41.72" lengthAdjust="spacingAndGlyphs" fill="#000" stroke="#fff" stroke-width="0.3">125</text>
<text x="1002.04" y="480.04" font-family="'Liberation Serif', serif" font-weight="400" font-size="25.22" textLength="27.98" lengthAdjust="spacingAndGlyphs" fill="#000" stroke="#fff" stroke-width="0.3">75</text>
<text x="1003.47" y="525.83" font-family="'Liberation Serif', serif" font-weight="400" font-size="25.22" textLength="26.49" lengthAdjust="spacingAndGlyphs" fill="#000" stroke="#fff" stroke-width="0.3">45</text>
<text x="1002.63" y="571.63" font-family="'Liberation Serif', serif" font-weight="400" font-size="25.22" textLength="27.36" lengthAdjust="spacingAndGlyphs" fill="#000" stroke="#fff" stroke-width="0.3">35</text>
<text x="1002.92" y="617.42" font-family="'Liberation Serif', serif" font-weight="400" font-size="25.22" textLength="27.07" lengthAdjust="spacingAndGlyphs" fill="#000" stroke="#fff" stroke-width="0.3">25</text>
<text x="1001.42" y="663.21" font-family="'Liberation Serif', serif" font-weight="400" font-size="25.22" textLength="28.62" lengthAdjust="spacingAndGlyphs" fill="#000" stroke="#fff" stroke-width="0.3">15</text>
<text x="1002.25" y="709.00" font-family="'Liberation Serif', serif" font-weight="400" font-size="25.22" textLength="14.63" lengthAdjust="spacingAndGlyphs" fill="#000" stroke="#fff" stroke-width="0.3">5</text>
<path d="M955 750.5 H1005.5 M992 743.2 L1005.5 750.5 L992 758.7" fill="none" stroke="#000" stroke-width="1.1"/>
<text x="941.55" y="777.69" font-family="'Liberation Serif', serif" font-weight="400" font-size="20.74" textLength="23.91" lengthAdjust="spacingAndGlyphs" fill="#000" stroke="#fff" stroke-width="0.3">10</text>
<text x="978.38" y="777.69" font-family="'Liberation Serif', serif" font-weight="400" font-size="20.74" textLength="20.19" lengthAdjust="spacingAndGlyphs" fill="#000" stroke="#fff" stroke-width="0.3">m</text>
<text x="1013.82" y="777.69" font-family="'Liberation Serif', serif" font-weight="400" font-size="20.74" textLength="10.55" lengthAdjust="spacingAndGlyphs" fill="#000" stroke="#fff" stroke-width="0.3">s</text>
<text x="1000.10" y="782.47" font-family="'Liberation Serif', serif" font-weight="400" font-size="32.88" textLength="11.81" lengthAdjust="spacingAndGlyphs" fill="#000" stroke="#fff" stroke-width="0.8">/</text>
<text x="360.09" y="827.89" font-family="'Liberation Serif', 'Noto Sans CJK SC', sans-serif" font-weight="300" font-size="20.10" textLength="170.90" lengthAdjust="spacingAndGlyphs" fill="#000" stroke="#fff" stroke-width="0">版权所有:南京大学</text>
<line x1="534.5" y1="808" x2="534.5" y2="838" stroke="#000" stroke-width="1.1"/>
<text x="545.60" y="827.89" font-family="'Liberation Serif', 'Noto Sans CJK SC', sans-serif" font-weight="300" font-size="20.10" textLength="197.76" lengthAdjust="spacingAndGlyphs" fill="#000" stroke="#fff" stroke-width="0">南京创蓝科技有限公司</text>
</svg></body></html>
